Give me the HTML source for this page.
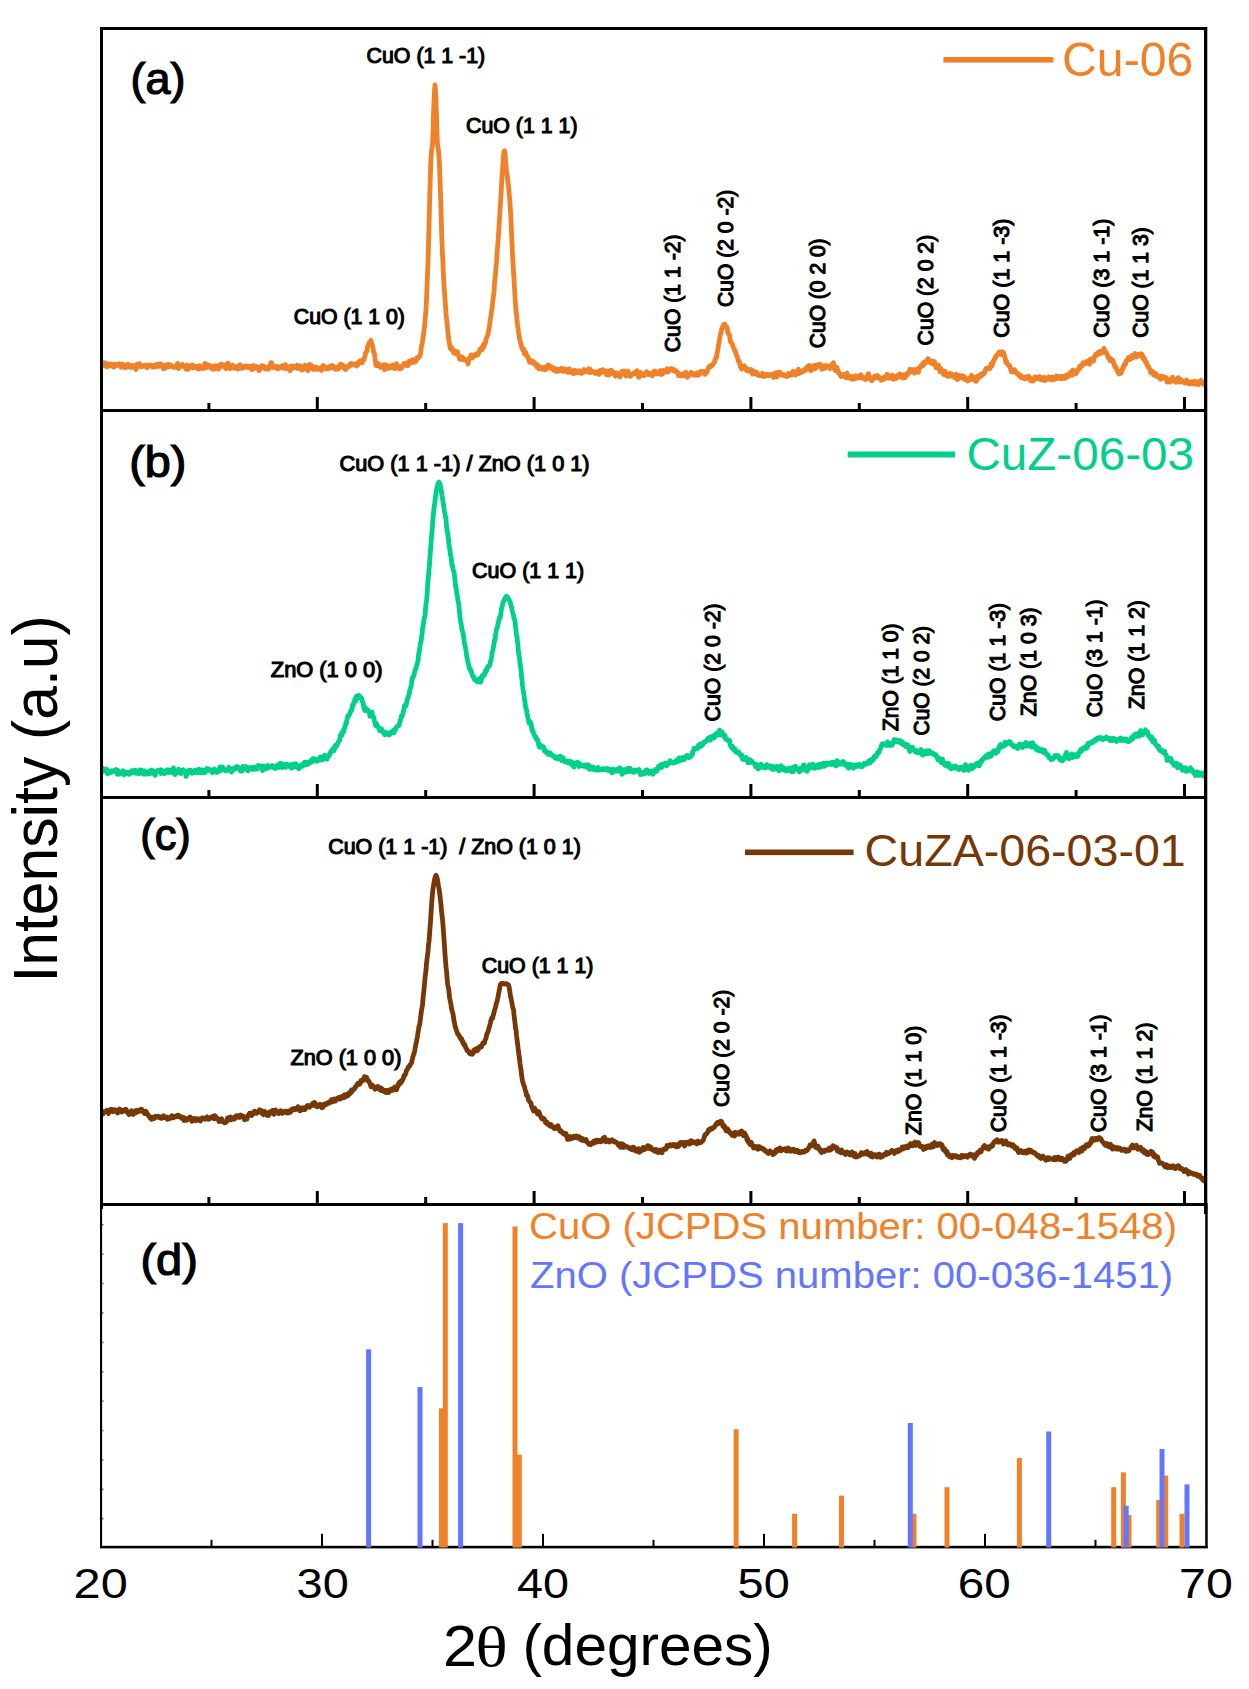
<!DOCTYPE html><html><head><meta charset="utf-8"><title>XRD patterns</title><style>html,body{margin:0;padding:0;background:#fff;overflow:hidden}svg{display:block}text{font-family:"Liberation Sans",sans-serif}</style></head><body>
<svg width="1249" height="1689" viewBox="0 0 1249 1689">
<rect width="1249" height="1689" fill="#fff"/>
<polyline fill="none" stroke="#EF8228" stroke-width="4.8" stroke-linejoin="round" points="102.0,367.1 102.5,365.5 103.0,364.7 103.5,363.8 104.0,365.5 104.5,362.7 105.0,366.0 105.5,364.8 106.0,365.4 106.5,365.0 107.0,366.9 107.5,363.7 108.0,364.1 108.5,364.3 109.0,366.1 109.5,364.4 110.0,364.7 110.5,364.0 111.0,364.7 111.5,365.7 112.0,364.3 112.5,366.1 113.0,366.8 113.5,366.7 114.0,367.0 114.5,365.4 115.0,365.3 115.5,364.3 116.0,364.5 116.5,365.6 117.0,364.7 117.5,364.6 118.0,364.2 118.5,363.9 119.0,363.9 119.5,364.6 120.0,363.8 120.5,364.9 121.0,367.1 121.5,367.1 122.0,366.1 122.5,364.8 123.0,364.3 123.5,366.8 124.0,366.2 124.5,365.1 125.0,365.5 125.5,367.9 126.0,366.9 126.5,366.9 127.0,366.6 127.5,365.6 128.0,364.3 128.5,364.5 129.0,364.8 129.5,365.9 130.0,366.7 130.5,367.2 131.0,366.7 131.5,367.2 132.0,365.5 132.5,367.0 133.0,366.9 133.5,365.9 134.0,366.3 134.5,365.9 135.0,367.1 135.5,368.1 136.0,369.4 136.5,365.9 137.0,364.1 137.5,364.3 138.0,365.2 138.5,366.4 139.0,366.4 139.5,363.7 140.0,364.4 140.5,366.0 141.0,366.1 141.5,366.8 142.0,366.0 142.5,365.6 143.0,365.9 143.5,366.3 144.0,366.2 144.5,366.1 145.0,365.2 145.5,365.9 146.0,366.0 146.5,367.2 147.0,367.8 147.5,367.0 148.0,366.0 148.5,365.1 149.0,366.0 149.5,366.0 150.0,365.5 150.5,365.7 151.0,365.0 151.5,366.2 152.0,365.5 152.5,367.1 153.0,366.9 153.5,367.1 154.0,365.2 154.5,365.7 155.0,366.6 155.5,365.2 156.0,365.2 156.5,365.6 157.0,364.2 157.5,365.4 158.0,366.6 158.5,365.3 159.0,366.0 159.5,364.4 160.0,365.1 160.5,363.7 161.0,366.1 161.5,366.5 162.0,366.2 162.5,365.2 163.0,367.0 163.5,368.8 164.0,365.2 164.5,367.0 165.0,368.4 165.5,367.6 166.0,365.4 166.5,366.7 167.0,366.1 167.5,365.4 168.0,364.3 168.5,365.8 169.0,366.8 169.5,365.7 170.0,366.5 170.5,364.9 171.0,366.4 171.5,366.3 172.0,366.0 172.5,365.9 173.0,367.0 173.5,367.4 174.0,367.4 174.5,366.9 175.0,366.6 175.5,367.1 176.0,366.9 176.5,367.3 177.0,366.3 177.5,363.4 178.0,366.0 178.5,368.6 179.0,367.9 179.5,366.9 180.0,366.4 180.5,366.1 181.0,366.2 181.5,364.9 182.0,364.9 182.5,364.4 183.0,365.6 183.5,365.6 184.0,366.5 184.5,366.1 185.0,367.3 185.5,367.0 186.0,369.1 186.5,365.5 187.0,365.1 187.5,366.7 188.0,369.4 188.5,367.6 189.0,367.0 189.5,366.4 190.0,367.9 190.5,366.7 191.0,367.3 191.5,366.4 192.0,364.9 192.5,366.0 193.0,366.7 193.5,368.0 194.0,367.0 194.5,366.0 195.0,366.8 195.5,366.9 196.0,366.9 196.5,366.6 197.0,367.8 197.5,367.5 198.0,369.1 198.5,369.0 199.0,368.5 199.5,365.6 200.0,366.7 200.5,367.0 201.0,367.7 201.5,368.2 202.0,366.9 202.5,367.6 203.0,366.4 203.5,368.7 204.0,366.0 204.5,364.2 205.0,363.4 205.5,363.9 206.0,363.9 206.5,367.5 207.0,366.6 207.5,365.0 208.0,367.0 208.5,366.1 209.0,364.9 209.5,366.7 210.0,367.3 210.5,366.4 211.0,368.1 211.5,367.5 212.0,368.9 212.5,368.3 213.0,369.2 213.5,368.0 214.0,365.9 214.5,369.1 215.0,367.2 215.5,366.7 216.0,365.8 216.5,366.0 217.0,366.6 217.5,366.8 218.0,367.5 218.5,369.1 219.0,367.7 219.5,365.8 220.0,364.8 220.5,365.0 221.0,363.9 221.5,366.2 222.0,365.9 222.5,365.9 223.0,366.3 223.5,364.9 224.0,364.8 224.5,366.5 225.0,367.3 225.5,366.5 226.0,368.7 226.5,366.2 227.0,366.1 227.5,366.1 228.0,363.2 228.5,367.2 229.0,367.4 229.5,365.9 230.0,368.7 230.5,368.4 231.0,368.1 231.5,366.7 232.0,366.9 232.5,365.1 233.0,366.9 233.5,366.4 234.0,366.8 234.5,368.2 235.0,367.8 235.5,367.6 236.0,367.6 236.5,366.4 237.0,367.6 237.5,369.0 238.0,368.8 238.5,368.8 239.0,366.9 239.5,365.9 240.0,364.7 240.5,367.2 241.0,366.8 241.5,368.4 242.0,366.8 242.5,366.3 243.0,366.7 243.5,367.9 244.0,367.5 244.5,367.5 245.0,367.2 245.5,367.3 246.0,365.8 246.5,366.5 247.0,366.5 247.5,366.7 248.0,367.4 248.5,366.4 249.0,366.6 249.5,366.5 250.0,367.2 250.5,368.0 251.0,366.4 251.5,367.4 252.0,369.6 252.5,366.6 253.0,365.9 253.5,365.5 254.0,365.9 254.5,368.4 255.0,367.7 255.5,366.6 256.0,367.6 256.5,366.6 257.0,368.2 257.5,368.0 258.0,369.1 258.5,367.4 259.0,370.7 259.5,369.9 260.0,369.3 260.5,368.2 261.0,366.8 261.5,366.0 262.0,366.4 262.5,365.9 263.0,366.9 263.5,366.1 264.0,367.4 264.5,368.4 265.0,367.0 265.5,368.5 266.0,367.6 266.5,368.7 267.0,368.5 267.5,369.2 268.0,367.1 268.5,367.1 269.0,368.8 269.5,367.4 270.0,365.0 270.5,363.9 271.0,362.7 271.5,362.6 272.0,364.5 272.5,367.4 273.0,366.9 273.5,367.5 274.0,367.3 274.5,367.3 275.0,367.2 275.5,367.1 276.0,367.8 276.5,366.2 277.0,368.0 277.5,368.8 278.0,367.9 278.5,368.6 279.0,367.2 279.5,366.7 280.0,367.3 280.5,367.1 281.0,366.8 281.5,366.4 282.0,366.3 282.5,368.0 283.0,365.5 283.5,366.9 284.0,366.9 284.5,368.1 285.0,368.4 285.5,364.7 286.0,366.8 286.5,367.5 287.0,367.6 287.5,367.0 288.0,368.3 288.5,367.4 289.0,369.6 289.5,369.2 290.0,370.9 290.5,368.3 291.0,365.9 291.5,367.6 292.0,368.6 292.5,368.1 293.0,366.1 293.5,366.3 294.0,367.7 294.5,367.4 295.0,367.4 295.5,367.3 296.0,366.4 296.5,366.4 297.0,365.3 297.5,368.5 298.0,367.5 298.5,368.1 299.0,366.7 299.5,368.1 300.0,365.7 300.5,367.7 301.0,367.6 301.5,370.0 302.0,367.3 302.5,367.5 303.0,368.0 303.5,369.2 304.0,367.9 304.5,367.9 305.0,365.3 305.5,365.5 306.0,367.0 306.5,368.6 307.0,367.8 307.5,370.0 308.0,370.8 308.5,369.1 309.0,365.6 309.5,364.5 310.0,365.1 310.5,367.6 311.0,368.0 311.5,365.3 312.0,366.2 312.5,368.7 313.0,367.7 313.5,366.7 314.0,369.5 314.5,368.6 315.0,367.5 315.5,367.9 316.0,367.7 316.5,367.1 317.0,368.7 317.5,369.4 318.0,369.4 318.5,368.3 319.0,369.2 319.5,368.3 320.0,368.4 320.5,369.1 321.0,369.2 321.5,370.4 322.0,369.4 322.5,366.5 323.0,365.6 323.5,368.0 324.0,367.3 324.5,367.8 325.0,366.6 325.5,368.1 326.0,367.3 326.5,369.0 327.0,367.5 327.5,368.7 328.0,368.8 328.5,367.2 329.0,368.5 329.5,366.8 330.0,366.1 330.5,367.5 331.0,366.6 331.5,366.2 332.0,366.3 332.5,365.6 333.0,367.5 333.5,368.0 334.0,367.5 334.5,367.2 335.0,367.6 335.5,369.4 336.0,369.2 336.5,367.5 337.0,368.1 337.5,367.4 338.0,367.0 338.5,369.1 339.0,367.5 339.5,366.6 340.0,364.5 340.5,364.1 341.0,366.0 341.5,365.6 342.0,366.8 342.5,365.5 343.0,365.2 343.5,366.7 344.0,368.4 344.5,368.2 345.0,368.8 345.5,369.7 346.0,369.3 346.5,366.9 347.0,366.6 347.5,367.3 348.0,366.4 348.5,366.9 349.0,364.9 349.5,364.7 350.0,366.1 350.5,363.7 351.0,363.7 351.5,364.9 352.0,363.5 352.5,364.7 353.0,364.3 353.5,364.6 354.0,364.7 354.5,365.1 355.0,364.3 355.5,364.6 356.0,363.8 356.5,364.6 357.0,366.1 357.5,365.0 358.0,364.3 358.5,362.2 359.0,363.1 359.5,361.7 360.0,360.8 360.5,361.7 361.0,361.5 361.5,362.3 362.0,362.8 362.5,360.5 363.0,359.6 363.5,360.4 364.0,359.2 364.5,357.5 365.0,356.6 365.5,353.2 366.0,352.1 366.5,351.7 367.0,351.0 367.5,347.3 368.0,345.4 368.5,344.7 369.0,343.2 369.5,342.1 370.0,342.7 370.5,341.9 371.0,340.3 371.5,342.8 372.0,344.3 372.5,346.0 373.0,347.2 373.5,352.2 374.0,352.3 374.5,354.3 375.0,358.0 375.5,362.5 376.0,365.5 376.5,364.4 377.0,364.9 377.5,363.4 378.0,365.6 378.5,363.9 379.0,364.5 379.5,366.2 380.0,365.7 380.5,367.4 381.0,365.5 381.5,366.0 382.0,366.9 382.5,366.1 383.0,367.5 383.5,367.3 384.0,364.7 384.5,369.8 385.0,368.6 385.5,367.3 386.0,365.0 386.5,365.5 387.0,365.2 387.5,366.3 388.0,366.5 388.5,368.4 389.0,367.3 389.5,367.3 390.0,367.1 390.5,366.4 391.0,366.0 391.5,367.3 392.0,367.6 392.5,366.2 393.0,364.9 393.5,365.5 394.0,367.2 394.5,366.7 395.0,368.6 395.5,366.6 396.0,366.7 396.5,363.6 397.0,364.4 397.5,365.1 398.0,366.4 398.5,368.4 399.0,367.5 399.5,368.7 400.0,368.3 400.5,368.5 401.0,366.9 401.5,368.2 402.0,366.0 402.5,366.6 403.0,365.1 403.5,364.8 404.0,363.5 404.5,363.8 405.0,364.9 405.5,364.8 406.0,363.2 406.5,365.5 407.0,365.2 407.5,365.7 408.0,365.6 408.5,363.7 409.0,361.2 409.5,361.0 410.0,363.2 410.5,361.6 411.0,362.9 411.5,361.7 412.0,362.2 412.5,359.8 413.0,362.0 413.5,361.5 414.0,362.3 414.5,361.7 415.0,362.0 415.5,360.9 416.0,361.2 416.5,358.5 417.0,357.4 417.5,358.7 418.0,358.2 418.5,357.4 419.0,356.8 419.5,356.8 420.0,355.2 420.5,354.3 421.0,349.8 421.5,346.1 422.0,344.3 422.5,342.1 423.0,337.1 423.5,335.2 424.0,330.3 424.5,327.7 425.0,320.9 425.5,315.3 426.0,308.7 426.5,298.9 427.0,288.3 427.5,275.0 428.0,262.2 428.5,246.9 429.0,226.1 429.5,206.4 430.0,187.8 430.5,171.0 431.0,158.2 431.5,150.7 432.0,147.9 432.5,143.9 433.0,133.0 433.5,114.3 434.0,101.3 434.5,91.0 435.0,84.8 435.5,91.5 436.0,101.3 436.5,115.0 437.0,133.2 437.5,144.7 438.0,148.0 438.5,150.8 439.0,155.5 439.5,165.4 440.0,178.6 440.5,194.1 441.0,210.7 441.5,227.9 442.0,243.3 442.5,254.6 443.0,263.6 443.5,276.5 444.0,286.3 444.5,291.2 445.0,299.1 445.5,306.5 446.0,313.2 446.5,318.3 447.0,322.4 447.5,328.0 448.0,332.8 448.5,337.9 449.0,341.3 449.5,343.9 450.0,346.6 450.5,348.6 451.0,347.3 451.5,347.8 452.0,347.9 452.5,350.6 453.0,350.7 453.5,352.7 454.0,351.8 454.5,352.1 455.0,351.0 455.5,353.7 456.0,353.4 456.5,352.3 457.0,353.0 457.5,351.7 458.0,353.9 458.5,355.5 459.0,356.7 459.5,358.9 460.0,358.2 460.5,359.3 461.0,359.5 461.5,359.1 462.0,356.9 462.5,359.4 463.0,359.1 463.5,359.6 464.0,358.4 464.5,359.5 465.0,359.9 465.5,359.9 466.0,359.7 466.5,361.0 467.0,361.4 467.5,361.3 468.0,364.2 468.5,361.0 469.0,359.6 469.5,358.0 470.0,358.8 470.5,357.8 471.0,354.8 471.5,354.9 472.0,356.3 472.5,357.9 473.0,355.5 473.5,355.3 474.0,355.5 474.5,354.8 475.0,355.6 475.5,355.2 476.0,355.2 476.5,353.7 477.0,355.3 477.5,354.1 478.0,354.7 478.5,352.8 479.0,352.7 479.5,350.9 480.0,349.4 480.5,348.7 481.0,348.7 481.5,348.2 482.0,349.7 482.5,347.0 483.0,345.3 483.5,347.4 484.0,346.8 484.5,343.2 485.0,343.6 485.5,342.8 486.0,338.8 486.5,337.8 487.0,336.7 487.5,335.8 488.0,334.4 488.5,331.3 489.0,329.5 489.5,325.8 490.0,321.7 490.5,318.0 491.0,316.3 491.5,310.8 492.0,309.0 492.5,303.8 493.0,299.6 493.5,295.9 494.0,292.1 494.5,283.8 495.0,278.0 495.5,273.2 496.0,267.0 496.5,262.5 497.0,253.7 497.5,248.5 498.0,242.1 498.5,234.6 499.0,227.0 499.5,218.4 500.0,210.9 500.5,202.6 501.0,194.5 501.5,185.4 502.0,177.1 502.5,169.7 503.0,162.3 503.5,155.8 504.0,151.3 504.5,150.7 505.0,153.7 505.5,159.7 506.0,165.3 506.5,170.5 507.0,174.2 507.5,177.8 508.0,182.1 508.5,186.3 509.0,192.0 509.5,197.1 510.0,203.3 510.5,211.4 511.0,220.7 511.5,231.9 512.0,243.8 512.5,255.2 513.0,263.5 513.5,271.3 514.0,279.0 514.5,288.0 515.0,297.0 515.5,304.6 516.0,310.6 516.5,315.0 517.0,319.7 517.5,324.6 518.0,328.1 518.5,331.8 519.0,334.8 519.5,338.8 520.0,340.4 520.5,342.7 521.0,344.7 521.5,346.4 522.0,348.7 522.5,349.3 523.0,350.1 523.5,348.5 524.0,350.6 524.5,354.0 525.0,352.6 525.5,352.0 526.0,353.1 526.5,355.4 527.0,356.4 527.5,356.1 528.0,356.8 528.5,358.7 529.0,359.6 529.5,362.4 530.0,362.4 530.5,362.0 531.0,362.3 531.5,361.6 532.0,360.8 532.5,362.0 533.0,363.2 533.5,361.8 534.0,362.3 534.5,362.9 535.0,364.2 535.5,364.3 536.0,365.4 536.5,365.7 537.0,367.1 537.5,364.7 538.0,367.5 538.5,368.7 539.0,367.9 539.5,368.2 540.0,368.4 540.5,367.1 541.0,367.5 541.5,368.4 542.0,368.4 542.5,369.3 543.0,368.7 543.5,368.4 544.0,367.3 544.5,367.3 545.0,367.2 545.5,369.7 546.0,369.3 546.5,367.6 547.0,368.5 547.5,368.2 548.0,364.9 548.5,367.2 549.0,366.1 549.5,368.0 550.0,367.3 550.5,366.3 551.0,368.1 551.5,366.7 552.0,367.3 552.5,368.3 553.0,369.3 553.5,370.0 554.0,369.4 554.5,368.3 555.0,370.9 555.5,369.3 556.0,371.3 556.5,369.7 557.0,370.8 557.5,371.3 558.0,369.1 558.5,369.7 559.0,370.4 559.5,370.8 560.0,369.9 560.5,370.1 561.0,369.5 561.5,368.3 562.0,370.2 562.5,369.4 563.0,371.3 563.5,371.4 564.0,369.7 564.5,369.8 565.0,369.7 565.5,369.0 566.0,370.3 566.5,369.8 567.0,372.1 567.5,372.3 568.0,370.5 568.5,370.6 569.0,370.4 569.5,368.8 570.0,370.9 570.5,372.0 571.0,372.5 571.5,371.2 572.0,372.3 572.5,371.4 573.0,372.3 573.5,373.8 574.0,372.6 574.5,370.3 575.0,370.4 575.5,371.6 576.0,372.8 576.5,370.8 577.0,370.8 577.5,371.4 578.0,371.9 578.5,372.7 579.0,371.0 579.5,370.8 580.0,372.3 580.5,372.4 581.0,372.5 581.5,373.4 582.0,372.6 582.5,372.8 583.0,371.9 583.5,370.3 584.0,369.5 584.5,370.7 585.0,371.0 585.5,370.7 586.0,371.6 586.5,370.7 587.0,371.5 587.5,371.7 588.0,370.8 588.5,368.8 589.0,372.1 589.5,372.4 590.0,369.2 590.5,370.1 591.0,371.6 591.5,371.6 592.0,372.5 592.5,371.2 593.0,371.9 593.5,372.0 594.0,371.9 594.5,371.8 595.0,372.3 595.5,373.4 596.0,372.2 596.5,371.8 597.0,372.3 597.5,372.2 598.0,372.8 598.5,373.4 599.0,374.4 599.5,373.3 600.0,370.3 600.5,371.4 601.0,372.4 601.5,372.3 602.0,372.3 602.5,369.7 603.0,371.8 603.5,371.9 604.0,370.6 604.5,370.7 605.0,370.7 605.5,372.5 606.0,373.3 606.5,374.8 607.0,374.6 607.5,372.2 608.0,371.0 608.5,373.3 609.0,375.0 609.5,373.7 610.0,374.1 610.5,371.9 611.0,370.3 611.5,370.4 612.0,371.4 612.5,371.7 613.0,372.2 613.5,372.2 614.0,373.5 614.5,375.1 615.0,374.3 615.5,376.2 616.0,374.1 616.5,373.1 617.0,373.7 617.5,373.2 618.0,374.7 618.5,373.4 619.0,375.0 619.5,374.5 620.0,377.0 620.5,374.8 621.0,374.0 621.5,374.0 622.0,371.3 622.5,373.2 623.0,374.0 623.5,374.0 624.0,372.1 624.5,371.1 625.0,373.1 625.5,374.8 626.0,376.1 626.5,373.9 627.0,372.7 627.5,372.9 628.0,371.1 628.5,371.8 629.0,373.8 629.5,375.7 630.0,375.1 630.5,376.3 631.0,375.5 631.5,374.9 632.0,374.1 632.5,374.2 633.0,373.7 633.5,373.6 634.0,372.9 634.5,373.6 635.0,373.7 635.5,372.0 636.0,372.6 636.5,372.2 637.0,370.6 637.5,372.7 638.0,375.0 638.5,377.1 639.0,377.2 639.5,374.5 640.0,375.4 640.5,375.9 641.0,372.5 641.5,374.1 642.0,374.6 642.5,374.3 643.0,374.3 643.5,374.0 644.0,375.7 644.5,374.2 645.0,373.7 645.5,373.6 646.0,373.9 646.5,371.7 647.0,374.2 647.5,374.1 648.0,374.5 648.5,374.2 649.0,373.6 649.5,373.1 650.0,373.4 650.5,373.6 651.0,374.8 651.5,374.5 652.0,373.8 652.5,375.9 653.0,373.1 653.5,371.7 654.0,372.9 654.5,372.8 655.0,371.0 655.5,371.7 656.0,371.6 656.5,373.7 657.0,372.7 657.5,374.1 658.0,374.1 658.5,373.4 659.0,373.2 659.5,373.6 660.0,370.6 660.5,372.2 661.0,372.1 661.5,374.5 662.0,372.8 662.5,374.0 663.0,370.3 663.5,372.2 664.0,372.5 664.5,372.0 665.0,371.8 665.5,371.4 666.0,371.8 666.5,371.2 667.0,368.8 667.5,369.3 668.0,372.1 668.5,370.9 669.0,370.4 669.5,369.2 670.0,369.3 670.5,369.3 671.0,368.9 671.5,370.1 672.0,368.8 672.5,369.3 673.0,370.5 673.5,370.5 674.0,369.6 674.5,371.4 675.0,370.7 675.5,371.1 676.0,371.0 676.5,371.8 677.0,372.0 677.5,372.1 678.0,373.6 678.5,375.7 679.0,374.4 679.5,374.9 680.0,374.2 680.5,374.5 681.0,375.9 681.5,375.4 682.0,374.2 682.5,373.8 683.0,373.7 683.5,374.4 684.0,375.8 684.5,374.0 685.0,373.4 685.5,373.2 686.0,372.2 686.5,375.2 687.0,375.1 687.5,377.3 688.0,374.6 688.5,376.3 689.0,374.8 689.5,374.4 690.0,373.5 690.5,373.1 691.0,372.4 691.5,373.9 692.0,372.8 692.5,373.4 693.0,374.0 693.5,375.0 694.0,374.8 694.5,375.0 695.0,375.2 695.5,374.7 696.0,374.8 696.5,373.3 697.0,372.7 697.5,375.4 698.0,374.6 698.5,373.3 699.0,375.0 699.5,374.0 700.0,372.9 700.5,371.4 701.0,373.1 701.5,371.7 702.0,371.5 702.5,372.7 703.0,372.6 703.5,372.1 704.0,371.6 704.5,372.7 705.0,374.4 705.5,371.8 706.0,371.7 706.5,372.9 707.0,372.4 707.5,369.9 708.0,368.7 708.5,367.7 709.0,366.7 709.5,366.2 710.0,366.8 710.5,365.8 711.0,366.7 711.5,366.0 712.0,364.6 712.5,365.0 713.0,364.1 713.5,363.2 714.0,363.0 714.5,361.9 715.0,359.9 715.5,359.2 716.0,357.0 716.5,357.5 717.0,354.3 717.5,351.4 718.0,348.7 718.5,344.6 719.0,342.8 719.5,339.4 720.0,336.0 720.5,333.9 721.0,333.1 721.5,329.5 722.0,328.9 722.5,326.8 723.0,326.9 723.5,324.8 724.0,326.6 724.5,326.3 725.0,324.1 725.5,326.9 726.0,326.7 726.5,326.8 727.0,327.3 727.5,330.2 728.0,333.7 728.5,333.8 729.0,334.3 729.5,335.0 730.0,339.0 730.5,341.8 731.0,341.4 731.5,342.9 732.0,343.6 732.5,344.4 733.0,346.7 733.5,347.8 734.0,348.9 734.5,349.3 735.0,351.5 735.5,352.1 736.0,353.6 736.5,355.5 737.0,355.6 737.5,357.6 738.0,359.3 738.5,361.3 739.0,361.4 739.5,361.8 740.0,365.4 740.5,366.9 741.0,367.5 741.5,369.1 742.0,368.5 742.5,367.8 743.0,368.3 743.5,365.9 744.0,365.8 744.5,368.1 745.0,368.5 745.5,367.3 746.0,369.0 746.5,370.4 747.0,370.8 747.5,370.4 748.0,369.3 748.5,370.0 749.0,370.8 749.5,370.4 750.0,371.4 750.5,371.7 751.0,372.0 751.5,369.5 752.0,372.0 752.5,374.1 753.0,372.8 753.5,371.0 754.0,372.7 754.5,372.4 755.0,371.7 755.5,374.0 756.0,372.2 756.5,373.9 757.0,372.5 757.5,375.0 758.0,375.2 758.5,374.4 759.0,374.5 759.5,375.1 760.0,375.7 760.5,375.9 761.0,375.8 761.5,374.5 762.0,375.2 762.5,373.3 763.0,375.0 763.5,375.7 764.0,376.6 764.5,374.8 765.0,374.8 765.5,375.6 766.0,375.3 766.5,374.4 767.0,374.7 767.5,374.7 768.0,375.7 768.5,374.3 769.0,374.8 769.5,374.9 770.0,375.5 770.5,374.9 771.0,374.8 771.5,374.5 772.0,374.5 772.5,374.5 773.0,374.1 773.5,377.5 774.0,375.0 774.5,373.4 775.0,373.0 775.5,372.9 776.0,373.7 776.5,375.7 777.0,377.0 777.5,376.0 778.0,372.4 778.5,373.9 779.0,372.7 779.5,373.0 780.0,372.4 780.5,373.9 781.0,373.5 781.5,374.9 782.0,375.2 782.5,374.6 783.0,374.6 783.5,375.6 784.0,374.6 784.5,375.6 785.0,375.0 785.5,375.1 786.0,375.7 786.5,376.6 787.0,376.2 787.5,375.4 788.0,375.8 788.5,373.4 789.0,375.8 789.5,373.6 790.0,375.1 790.5,374.1 791.0,374.9 791.5,374.5 792.0,374.7 792.5,373.5 793.0,371.3 793.5,373.1 794.0,372.7 794.5,372.4 795.0,372.1 795.5,375.0 796.0,373.3 796.5,373.5 797.0,371.7 797.5,373.8 798.0,372.4 798.5,369.2 799.0,373.6 799.5,371.3 800.0,372.8 800.5,372.7 801.0,372.5 801.5,371.2 802.0,370.9 802.5,371.9 803.0,370.5 803.5,370.3 804.0,370.8 804.5,370.0 805.0,368.9 805.5,370.4 806.0,369.8 806.5,368.8 807.0,367.5 807.5,366.4 808.0,368.0 808.5,368.8 809.0,365.5 809.5,365.6 810.0,367.3 810.5,369.9 811.0,370.7 811.5,369.8 812.0,369.7 812.5,367.5 813.0,367.9 813.5,365.7 814.0,365.4 814.5,366.2 815.0,368.8 815.5,368.4 816.0,367.6 816.5,366.7 817.0,364.9 817.5,366.2 818.0,365.8 818.5,366.2 819.0,365.1 819.5,365.7 820.0,364.1 820.5,365.6 821.0,367.3 821.5,367.7 822.0,369.3 822.5,368.0 823.0,367.6 823.5,367.4 824.0,365.7 824.5,368.3 825.0,368.3 825.5,366.9 826.0,365.5 826.5,366.5 827.0,367.3 827.5,366.9 828.0,366.8 828.5,366.3 829.0,366.3 829.5,367.8 830.0,368.7 830.5,365.8 831.0,366.3 831.5,365.0 832.0,364.2 832.5,366.1 833.0,365.5 833.5,362.7 834.0,365.8 834.5,368.3 835.0,370.6 835.5,369.2 836.0,370.8 836.5,367.2 837.0,367.5 837.5,369.6 838.0,370.9 838.5,372.8 839.0,373.6 839.5,373.0 840.0,374.9 840.5,375.1 841.0,376.6 841.5,374.6 842.0,375.1 842.5,374.7 843.0,376.0 843.5,375.6 844.0,375.5 844.5,374.3 845.0,375.5 845.5,377.1 846.0,377.8 846.5,373.6 847.0,373.1 847.5,377.1 848.0,376.6 848.5,376.4 849.0,377.9 849.5,377.5 850.0,376.4 850.5,376.4 851.0,378.8 851.5,376.3 852.0,378.2 852.5,377.3 853.0,376.9 853.5,379.2 854.0,377.5 854.5,378.3 855.0,377.4 855.5,375.7 856.0,376.4 856.5,378.3 857.0,377.7 857.5,378.2 858.0,378.1 858.5,377.9 859.0,377.3 859.5,377.6 860.0,375.3 860.5,376.0 861.0,374.8 861.5,376.6 862.0,377.6 862.5,376.8 863.0,378.3 863.5,378.5 864.0,378.6 864.5,377.8 865.0,378.4 865.5,379.4 866.0,377.9 866.5,377.0 867.0,378.9 867.5,375.8 868.0,373.9 868.5,373.8 869.0,376.1 869.5,377.2 870.0,378.2 870.5,378.2 871.0,379.9 871.5,380.7 872.0,380.7 872.5,378.0 873.0,378.4 873.5,377.2 874.0,377.0 874.5,376.3 875.0,377.2 875.5,378.2 876.0,378.2 876.5,376.7 877.0,375.5 877.5,375.9 878.0,376.0 878.5,377.8 879.0,377.5 879.5,377.5 880.0,377.5 880.5,378.9 881.0,380.3 881.5,379.5 882.0,378.4 882.5,379.7 883.0,379.2 883.5,378.0 884.0,379.0 884.5,378.6 885.0,376.5 885.5,377.8 886.0,378.1 886.5,375.7 887.0,374.2 887.5,376.1 888.0,377.6 888.5,378.3 889.0,376.3 889.5,376.5 890.0,377.8 890.5,375.9 891.0,376.7 891.5,377.3 892.0,378.4 892.5,375.1 893.0,376.4 893.5,379.2 894.0,377.5 894.5,377.0 895.0,378.2 895.5,376.8 896.0,378.3 896.5,378.3 897.0,375.9 897.5,376.6 898.0,375.1 898.5,377.1 899.0,375.1 899.5,373.9 900.0,374.1 900.5,374.5 901.0,377.1 901.5,376.9 902.0,377.0 902.5,378.0 903.0,376.3 903.5,375.5 904.0,374.8 904.5,376.2 905.0,377.8 905.5,376.9 906.0,375.3 906.5,374.6 907.0,373.4 907.5,374.8 908.0,373.3 908.5,373.4 909.0,372.3 909.5,370.7 910.0,369.1 910.5,370.1 911.0,371.7 911.5,371.8 912.0,371.8 912.5,370.7 913.0,370.1 913.5,369.6 914.0,370.7 914.5,373.2 915.0,371.8 915.5,369.6 916.0,371.3 916.5,369.4 917.0,370.0 917.5,369.0 918.0,368.8 918.5,372.4 919.0,369.1 919.5,367.5 920.0,367.5 920.5,366.8 921.0,365.8 921.5,364.7 922.0,365.4 922.5,366.1 923.0,363.9 923.5,362.4 924.0,364.8 924.5,362.1 925.0,363.1 925.5,363.0 926.0,361.1 926.5,362.2 927.0,360.5 927.5,359.6 928.0,358.7 928.5,360.8 929.0,360.4 929.5,361.9 930.0,360.6 930.5,361.6 931.0,363.2 931.5,362.3 932.0,360.9 932.5,361.2 933.0,363.4 933.5,364.0 934.0,363.3 934.5,361.6 935.0,363.8 935.5,366.2 936.0,367.6 936.5,367.2 937.0,366.5 937.5,365.8 938.0,365.9 938.5,365.0 939.0,369.1 939.5,368.9 940.0,371.9 940.5,370.8 941.0,368.6 941.5,371.8 942.0,370.5 942.5,370.5 943.0,373.1 943.5,374.3 944.0,371.1 944.5,371.9 945.0,371.2 945.5,372.8 946.0,375.2 946.5,373.8 947.0,375.5 947.5,373.7 948.0,376.5 948.5,374.6 949.0,374.1 949.5,374.9 950.0,373.4 950.5,376.1 951.0,374.6 951.5,375.9 952.0,374.4 952.5,375.4 953.0,375.8 953.5,375.7 954.0,376.7 954.5,375.4 955.0,377.9 955.5,377.7 956.0,374.2 956.5,378.0 957.0,378.2 957.5,379.6 958.0,378.4 958.5,375.4 959.0,376.0 959.5,375.5 960.0,376.6 960.5,376.6 961.0,377.5 961.5,375.6 962.0,376.8 962.5,376.8 963.0,378.1 963.5,376.1 964.0,376.6 964.5,379.2 965.0,377.3 965.5,378.6 966.0,379.9 966.5,379.0 967.0,379.8 967.5,380.2 968.0,381.0 968.5,379.2 969.0,378.6 969.5,379.4 970.0,378.0 970.5,378.2 971.0,377.5 971.5,375.3 972.0,377.2 972.5,379.8 973.0,378.6 973.5,378.6 974.0,378.0 974.5,377.3 975.0,378.0 975.5,379.4 976.0,381.4 976.5,380.7 977.0,378.2 977.5,376.3 978.0,378.4 978.5,378.1 979.0,376.8 979.5,375.4 980.0,374.9 980.5,376.7 981.0,376.0 981.5,373.9 982.0,375.2 982.5,374.9 983.0,373.9 983.5,374.1 984.0,372.4 984.5,373.3 985.0,370.7 985.5,369.8 986.0,368.5 986.5,368.6 987.0,368.1 987.5,368.0 988.0,368.0 988.5,368.4 989.0,367.9 989.5,367.5 990.0,368.6 990.5,366.6 991.0,363.9 991.5,364.9 992.0,365.9 992.5,364.0 993.0,363.4 993.5,360.8 994.0,359.9 994.5,359.5 995.0,358.5 995.5,356.4 996.0,357.4 996.5,355.8 997.0,355.4 997.5,354.3 998.0,353.9 998.5,353.6 999.0,351.9 999.5,352.1 1000.0,353.7 1000.5,354.4 1001.0,353.4 1001.5,354.3 1002.0,351.6 1002.5,353.9 1003.0,354.0 1003.5,352.4 1004.0,354.4 1004.5,357.0 1005.0,357.0 1005.5,360.7 1006.0,362.5 1006.5,361.0 1007.0,363.5 1007.5,364.3 1008.0,364.4 1008.5,365.2 1009.0,365.9 1009.5,365.6 1010.0,366.6 1010.5,368.6 1011.0,370.7 1011.5,372.0 1012.0,370.6 1012.5,370.6 1013.0,370.0 1013.5,372.0 1014.0,370.2 1014.5,369.8 1015.0,370.6 1015.5,372.2 1016.0,372.5 1016.5,373.2 1017.0,373.7 1017.5,374.3 1018.0,373.3 1018.5,373.7 1019.0,375.0 1019.5,375.4 1020.0,376.7 1020.5,375.2 1021.0,376.5 1021.5,377.9 1022.0,376.8 1022.5,376.8 1023.0,376.8 1023.5,377.2 1024.0,377.4 1024.5,378.7 1025.0,378.4 1025.5,378.7 1026.0,378.3 1026.5,376.6 1027.0,377.5 1027.5,377.2 1028.0,376.7 1028.5,376.2 1029.0,377.0 1029.5,376.8 1030.0,379.8 1030.5,380.8 1031.0,379.2 1031.5,379.6 1032.0,380.4 1032.5,379.2 1033.0,381.1 1033.5,380.9 1034.0,379.7 1034.5,377.2 1035.0,376.9 1035.5,378.3 1036.0,378.1 1036.5,378.5 1037.0,377.9 1037.5,378.7 1038.0,378.4 1038.5,377.0 1039.0,377.6 1039.5,377.7 1040.0,376.6 1040.5,379.5 1041.0,379.2 1041.5,378.8 1042.0,379.8 1042.5,379.3 1043.0,380.1 1043.5,377.9 1044.0,377.2 1044.5,378.8 1045.0,380.6 1045.5,379.8 1046.0,379.6 1046.5,378.3 1047.0,378.6 1047.5,377.9 1048.0,378.2 1048.5,379.3 1049.0,376.8 1049.5,378.0 1050.0,377.4 1050.5,377.3 1051.0,379.3 1051.5,379.3 1052.0,380.0 1052.5,377.3 1053.0,377.4 1053.5,377.4 1054.0,377.3 1054.5,378.3 1055.0,379.4 1055.5,377.6 1056.0,376.8 1056.5,376.0 1057.0,378.4 1057.5,377.6 1058.0,377.6 1058.5,377.3 1059.0,376.4 1059.5,377.4 1060.0,377.9 1060.5,378.7 1061.0,377.7 1061.5,377.0 1062.0,376.3 1062.5,378.2 1063.0,378.5 1063.5,377.4 1064.0,377.6 1064.5,376.2 1065.0,378.4 1065.5,376.4 1066.0,375.5 1066.5,375.0 1067.0,377.0 1067.5,376.2 1068.0,376.7 1068.5,375.5 1069.0,373.6 1069.5,374.8 1070.0,373.7 1070.5,372.2 1071.0,372.4 1071.5,373.6 1072.0,375.4 1072.5,372.5 1073.0,370.0 1073.5,372.2 1074.0,372.4 1074.5,371.4 1075.0,371.9 1075.5,372.3 1076.0,373.7 1076.5,371.9 1077.0,372.4 1077.5,370.6 1078.0,369.4 1078.5,369.7 1079.0,367.9 1079.5,366.6 1080.0,368.4 1080.5,365.7 1081.0,366.6 1081.5,366.4 1082.0,366.0 1082.5,364.5 1083.0,362.8 1083.5,363.4 1084.0,362.9 1084.5,363.3 1085.0,363.9 1085.5,363.1 1086.0,362.1 1086.5,363.0 1087.0,362.0 1087.5,361.1 1088.0,361.2 1088.5,361.7 1089.0,363.9 1089.5,364.2 1090.0,360.8 1090.5,358.9 1091.0,359.3 1091.5,359.8 1092.0,359.1 1092.5,361.2 1093.0,360.9 1093.5,361.1 1094.0,358.7 1094.5,356.7 1095.0,355.3 1095.5,355.6 1096.0,354.1 1096.5,353.9 1097.0,353.8 1097.5,355.1 1098.0,353.9 1098.5,352.0 1099.0,351.9 1099.5,352.4 1100.0,352.9 1100.5,351.3 1101.0,352.1 1101.5,353.3 1102.0,352.8 1102.5,352.1 1103.0,351.0 1103.5,350.3 1104.0,348.4 1104.5,350.6 1105.0,350.9 1105.5,351.9 1106.0,353.1 1106.5,352.6 1107.0,354.8 1107.5,355.3 1108.0,357.6 1108.5,357.6 1109.0,358.3 1109.5,358.4 1110.0,360.9 1110.5,358.4 1111.0,359.4 1111.5,360.5 1112.0,360.0 1112.5,361.0 1113.0,360.4 1113.5,363.3 1114.0,363.4 1114.5,366.0 1115.0,367.1 1115.5,367.4 1116.0,367.2 1116.5,368.4 1117.0,370.5 1117.5,371.3 1118.0,372.7 1118.5,371.8 1119.0,374.0 1119.5,372.9 1120.0,371.3 1120.5,372.8 1121.0,373.2 1121.5,371.3 1122.0,369.5 1122.5,369.8 1123.0,367.3 1123.5,367.7 1124.0,364.8 1124.5,364.3 1125.0,363.7 1125.5,364.4 1126.0,360.8 1126.5,361.0 1127.0,360.4 1127.5,360.1 1128.0,358.7 1128.5,357.4 1129.0,357.5 1129.5,357.6 1130.0,359.5 1130.5,358.7 1131.0,357.9 1131.5,358.2 1132.0,355.5 1132.5,356.7 1133.0,357.4 1133.5,357.6 1134.0,356.1 1134.5,354.2 1135.0,353.4 1135.5,354.3 1136.0,355.1 1136.5,356.2 1137.0,356.9 1137.5,356.5 1138.0,355.3 1138.5,355.0 1139.0,354.2 1139.5,355.3 1140.0,355.4 1140.5,355.2 1141.0,353.7 1141.5,355.9 1142.0,354.4 1142.5,357.2 1143.0,358.8 1143.5,357.1 1144.0,358.5 1144.5,358.3 1145.0,360.0 1145.5,362.2 1146.0,363.0 1146.5,362.5 1147.0,364.6 1147.5,366.1 1148.0,366.9 1148.5,366.5 1149.0,367.5 1149.5,369.0 1150.0,369.4 1150.5,372.5 1151.0,372.1 1151.5,371.7 1152.0,372.4 1152.5,371.3 1153.0,372.6 1153.5,374.9 1154.0,373.4 1154.5,374.2 1155.0,375.3 1155.5,373.3 1156.0,376.2 1156.5,374.8 1157.0,375.0 1157.5,376.1 1158.0,376.1 1158.5,377.4 1159.0,377.4 1159.5,378.0 1160.0,377.8 1160.5,379.3 1161.0,376.2 1161.5,377.4 1162.0,377.3 1162.5,376.6 1163.0,376.5 1163.5,376.7 1164.0,378.3 1164.5,377.4 1165.0,377.8 1165.5,378.6 1166.0,377.4 1166.5,379.5 1167.0,382.1 1167.5,379.8 1168.0,380.6 1168.5,379.6 1169.0,380.1 1169.5,379.6 1170.0,382.2 1170.5,380.5 1171.0,381.1 1171.5,381.1 1172.0,379.3 1172.5,377.1 1173.0,379.3 1173.5,380.7 1174.0,379.8 1174.5,379.3 1175.0,380.9 1175.5,381.6 1176.0,382.1 1176.5,381.6 1177.0,380.2 1177.5,379.0 1178.0,377.6 1178.5,379.1 1179.0,382.2 1179.5,382.1 1180.0,381.4 1180.5,379.5 1181.0,379.5 1181.5,380.3 1182.0,380.5 1182.5,382.0 1183.0,381.5 1183.5,382.2 1184.0,381.7 1184.5,381.4 1185.0,383.0 1185.5,381.4 1186.0,381.3 1186.5,380.0 1187.0,381.0 1187.5,382.7 1188.0,383.1 1188.5,383.4 1189.0,384.0 1189.5,383.8 1190.0,383.8 1190.5,383.5 1191.0,381.8 1191.5,382.7 1192.0,383.6 1192.5,382.0 1193.0,382.5 1193.5,383.8 1194.0,382.8 1194.5,381.2 1195.0,382.0 1195.5,384.2 1196.0,382.4 1196.5,382.5 1197.0,381.8 1197.5,382.0 1198.0,382.7 1198.5,384.6 1199.0,383.0 1199.5,382.2 1200.0,381.7 1200.5,381.1 1201.0,380.4 1201.5,380.8 1202.0,381.9 1202.5,382.7 1203.0,384.3 1203.5,382.9 1204.0,382.2 1204.5,381.9"/>
<polyline fill="none" stroke="#00D08A" stroke-width="4.8" stroke-linejoin="round" points="102.0,770.2 102.5,770.5 103.0,768.2 103.5,771.5 104.0,769.2 104.5,769.1 105.0,770.7 105.5,769.5 106.0,769.1 106.5,769.2 107.0,770.9 107.5,773.8 108.0,772.7 108.5,770.8 109.0,771.8 109.5,771.0 110.0,771.3 110.5,772.8 111.0,771.4 111.5,771.6 112.0,770.7 112.5,771.1 113.0,771.8 113.5,770.8 114.0,771.0 114.5,771.2 115.0,770.9 115.5,770.2 116.0,769.5 116.5,770.7 117.0,771.2 117.5,774.3 118.0,770.5 118.5,771.5 119.0,772.4 119.5,774.0 120.0,773.8 120.5,772.1 121.0,772.3 121.5,773.0 122.0,772.4 122.5,773.4 123.0,770.8 123.5,773.7 124.0,774.8 124.5,773.3 125.0,773.7 125.5,773.2 126.0,772.0 126.5,772.4 127.0,773.7 127.5,772.8 128.0,772.3 128.5,772.4 129.0,773.1 129.5,774.3 130.0,772.8 130.5,773.3 131.0,773.3 131.5,770.8 132.0,771.3 132.5,771.8 133.0,772.2 133.5,772.8 134.0,770.4 134.5,771.6 135.0,771.3 135.5,770.3 136.0,772.1 136.5,773.2 137.0,772.1 137.5,773.3 138.0,772.5 138.5,772.6 139.0,771.3 139.5,773.7 140.0,770.0 140.5,771.1 141.0,772.6 141.5,770.2 142.0,771.1 142.5,771.6 143.0,772.9 143.5,774.1 144.0,772.7 144.5,770.9 145.0,773.2 145.5,774.1 146.0,772.6 146.5,772.8 147.0,772.9 147.5,773.2 148.0,772.9 148.5,774.1 149.0,771.1 149.5,772.8 150.0,772.8 150.5,772.2 151.0,773.4 151.5,770.0 152.0,772.3 152.5,772.6 153.0,770.9 153.5,771.9 154.0,771.5 154.5,774.7 155.0,775.4 155.5,774.1 156.0,772.1 156.5,771.3 157.0,771.1 157.5,770.8 158.0,770.2 158.5,770.3 159.0,770.7 159.5,770.6 160.0,770.3 160.5,769.9 161.0,773.7 161.5,771.0 162.0,770.2 162.5,771.4 163.0,771.1 163.5,771.9 164.0,772.7 164.5,773.6 165.0,773.5 165.5,771.4 166.0,772.8 166.5,770.1 167.0,770.7 167.5,770.6 168.0,769.8 168.5,771.4 169.0,771.2 169.5,772.6 170.0,770.3 170.5,771.9 171.0,772.3 171.5,772.0 172.0,770.1 172.5,770.5 173.0,769.2 173.5,768.0 174.0,773.5 174.5,773.6 175.0,774.6 175.5,772.5 176.0,772.8 176.5,772.9 177.0,772.9 177.5,772.2 178.0,771.5 178.5,769.1 179.0,771.0 179.5,771.7 180.0,772.8 180.5,771.8 181.0,773.6 181.5,772.0 182.0,770.2 182.5,771.9 183.0,771.1 183.5,769.8 184.0,770.7 184.5,771.9 185.0,771.9 185.5,772.2 186.0,776.5 186.5,774.8 187.0,774.8 187.5,770.8 188.0,771.5 188.5,772.3 189.0,771.4 189.5,770.3 190.0,771.3 190.5,770.9 191.0,770.4 191.5,772.1 192.0,773.2 192.5,772.6 193.0,771.4 193.5,771.9 194.0,772.5 194.5,772.6 195.0,770.2 195.5,770.3 196.0,771.2 196.5,771.9 197.0,772.6 197.5,772.8 198.0,770.6 198.5,770.1 199.0,769.2 199.5,772.2 200.0,771.9 200.5,772.1 201.0,772.8 201.5,771.5 202.0,770.0 202.5,770.0 203.0,770.3 203.5,772.4 204.0,772.7 204.5,770.6 205.0,771.5 205.5,772.1 206.0,770.3 206.5,770.5 207.0,768.5 207.5,770.1 208.0,770.1 208.5,768.9 209.0,769.0 209.5,770.2 210.0,769.8 210.5,770.6 211.0,771.3 211.5,770.0 212.0,770.0 212.5,772.8 213.0,771.8 213.5,770.3 214.0,770.5 214.5,769.0 215.0,771.1 215.5,771.2 216.0,772.1 216.5,772.3 217.0,771.8 217.5,772.2 218.0,771.5 218.5,770.2 219.0,769.1 219.5,769.2 220.0,766.9 220.5,770.7 221.0,768.5 221.5,769.3 222.0,768.2 222.5,766.9 223.0,768.4 223.5,768.9 224.0,769.3 224.5,770.3 225.0,769.5 225.5,770.2 226.0,770.7 226.5,769.9 227.0,769.6 227.5,770.4 228.0,770.2 228.5,770.2 229.0,767.3 229.5,768.6 230.0,769.6 230.5,769.5 231.0,770.0 231.5,772.0 232.0,771.0 232.5,771.1 233.0,769.4 233.5,768.5 234.0,768.5 234.5,767.8 235.0,768.7 235.5,768.0 236.0,768.5 236.5,767.3 237.0,766.5 237.5,767.2 238.0,767.0 238.5,767.4 239.0,767.7 239.5,768.1 240.0,769.9 240.5,771.1 241.0,771.0 241.5,769.7 242.0,771.1 242.5,768.4 243.0,766.4 243.5,768.0 244.0,768.5 244.5,768.6 245.0,768.8 245.5,767.0 246.0,766.6 246.5,769.2 247.0,770.2 247.5,768.7 248.0,770.9 248.5,768.6 249.0,768.0 249.5,768.7 250.0,767.3 250.5,767.4 251.0,767.8 251.5,767.7 252.0,769.1 252.5,769.5 253.0,767.7 253.5,767.3 254.0,768.0 254.5,768.1 255.0,767.3 255.5,768.2 256.0,769.2 256.5,767.9 257.0,768.9 257.5,766.6 258.0,765.5 258.5,767.3 259.0,766.7 259.5,766.1 260.0,766.7 260.5,766.5 261.0,767.5 261.5,765.9 262.0,766.3 262.5,770.6 263.0,769.1 263.5,766.1 264.0,767.4 264.5,767.9 265.0,769.1 265.5,768.2 266.0,766.8 266.5,768.4 267.0,768.4 267.5,765.4 268.0,766.8 268.5,766.4 269.0,767.6 269.5,766.5 270.0,767.2 270.5,766.8 271.0,767.1 271.5,766.4 272.0,765.6 272.5,765.7 273.0,766.4 273.5,766.4 274.0,767.8 274.5,767.1 275.0,766.9 275.5,768.5 276.0,766.9 276.5,766.6 277.0,765.2 277.5,765.2 278.0,767.0 278.5,766.4 279.0,767.3 279.5,764.9 280.0,763.4 280.5,764.5 281.0,763.2 281.5,767.2 282.0,767.5 282.5,764.8 283.0,764.7 283.5,764.2 284.0,765.1 284.5,765.0 285.0,766.1 285.5,767.2 286.0,765.9 286.5,764.1 287.0,765.2 287.5,764.9 288.0,766.3 288.5,765.5 289.0,766.2 289.5,766.0 290.0,765.3 290.5,764.6 291.0,765.6 291.5,768.2 292.0,767.6 292.5,766.1 293.0,766.4 293.5,765.8 294.0,763.9 294.5,764.8 295.0,766.7 295.5,765.5 296.0,763.9 296.5,765.0 297.0,767.1 297.5,767.1 298.0,767.2 298.5,768.8 299.0,768.7 299.5,767.7 300.0,766.1 300.5,765.7 301.0,765.2 301.5,766.0 302.0,764.4 302.5,766.3 303.0,765.6 303.5,764.5 304.0,765.3 304.5,762.3 305.0,762.1 305.5,762.1 306.0,763.7 306.5,762.9 307.0,764.6 307.5,763.2 308.0,763.5 308.5,762.1 309.0,763.5 309.5,762.4 310.0,762.7 310.5,761.6 311.0,760.2 311.5,760.4 312.0,761.9 312.5,760.2 313.0,758.6 313.5,759.2 314.0,760.7 314.5,759.2 315.0,759.0 315.5,759.7 316.0,759.4 316.5,759.9 317.0,761.2 317.5,760.4 318.0,759.9 318.5,760.5 319.0,759.9 319.5,758.4 320.0,757.6 320.5,757.0 321.0,760.1 321.5,759.3 322.0,759.6 322.5,759.8 323.0,758.0 323.5,758.7 324.0,757.7 324.5,755.3 325.0,756.2 325.5,755.5 326.0,755.9 326.5,756.8 327.0,759.3 327.5,757.2 328.0,756.4 328.5,756.4 329.0,755.9 329.5,755.0 330.0,753.2 330.5,752.1 331.0,752.2 331.5,750.8 332.0,750.3 332.5,749.1 333.0,750.9 333.5,748.4 334.0,750.7 334.5,748.6 335.0,746.6 335.5,745.1 336.0,746.2 336.5,746.6 337.0,744.2 337.5,743.9 338.0,742.8 338.5,741.7 339.0,741.1 339.5,741.0 340.0,737.4 340.5,734.7 341.0,735.5 341.5,735.1 342.0,735.2 342.5,731.9 343.0,730.5 343.5,732.0 344.0,728.9 344.5,728.6 345.0,726.5 345.5,725.2 346.0,722.5 346.5,723.3 347.0,719.3 347.5,717.2 348.0,715.7 348.5,716.5 349.0,715.2 349.5,714.4 350.0,712.6 350.5,711.4 351.0,710.5 351.5,710.7 352.0,708.6 352.5,705.0 353.0,705.6 353.5,704.2 354.0,701.5 354.5,700.8 355.0,699.0 355.5,701.3 356.0,699.3 356.5,696.1 357.0,697.0 357.5,696.0 358.0,697.9 358.5,697.6 359.0,695.4 359.5,696.2 360.0,696.3 360.5,697.2 361.0,698.4 361.5,698.0 362.0,700.9 362.5,701.7 363.0,702.6 363.5,705.5 364.0,708.8 364.5,707.9 365.0,710.6 365.5,707.7 366.0,709.6 366.5,709.4 367.0,710.2 367.5,709.8 368.0,710.3 368.5,711.1 369.0,711.7 369.5,713.1 370.0,716.3 370.5,714.7 371.0,714.8 371.5,713.4 372.0,712.1 372.5,716.4 373.0,716.0 373.5,717.0 374.0,718.9 374.5,721.5 375.0,722.7 375.5,725.6 376.0,725.2 376.5,723.6 377.0,725.5 377.5,726.7 378.0,726.5 378.5,727.1 379.0,727.5 379.5,730.5 380.0,729.6 380.5,728.5 381.0,730.2 381.5,728.8 382.0,730.9 382.5,732.1 383.0,731.5 383.5,731.7 384.0,731.8 384.5,734.6 385.0,734.7 385.5,733.0 386.0,732.2 386.5,733.1 387.0,733.7 387.5,733.0 388.0,733.9 388.5,733.7 389.0,735.0 389.5,734.7 390.0,733.9 390.5,733.6 391.0,732.0 391.5,733.1 392.0,732.9 392.5,731.6 393.0,731.3 393.5,730.2 394.0,732.9 394.5,730.5 395.0,730.2 395.5,729.5 396.0,727.6 396.5,727.2 397.0,726.4 397.5,726.3 398.0,725.9 398.5,725.9 399.0,725.5 399.5,723.4 400.0,721.6 400.5,720.1 401.0,718.3 401.5,715.8 402.0,716.5 402.5,715.3 403.0,713.8 403.5,710.7 404.0,708.5 404.5,705.5 405.0,706.0 405.5,706.4 406.0,705.6 406.5,703.5 407.0,700.3 407.5,699.0 408.0,697.3 408.5,696.2 409.0,694.8 409.5,691.8 410.0,689.5 410.5,688.2 411.0,686.3 411.5,683.6 412.0,679.0 412.5,677.6 413.0,677.7 413.5,676.0 414.0,675.2 414.5,672.5 415.0,670.7 415.5,669.6 416.0,668.0 416.5,665.9 417.0,664.5 417.5,663.0 418.0,661.1 418.5,655.4 419.0,652.5 419.5,649.8 420.0,646.9 420.5,642.5 421.0,642.1 421.5,637.6 422.0,634.9 422.5,629.0 423.0,626.5 423.5,623.7 424.0,619.6 424.5,617.4 425.0,616.1 425.5,609.4 426.0,603.7 426.5,601.1 427.0,595.4 427.5,588.4 428.0,580.5 428.5,575.6 429.0,569.3 429.5,564.6 430.0,556.5 430.5,550.0 431.0,543.2 431.5,536.4 432.0,531.2 432.5,525.3 433.0,518.0 433.5,512.7 434.0,508.3 434.5,504.8 435.0,500.7 435.5,496.5 436.0,493.0 436.5,489.8 437.0,487.4 437.5,485.4 438.0,483.8 438.5,482.6 439.0,482.1 439.5,483.1 440.0,484.4 440.5,486.2 441.0,489.0 441.5,492.1 442.0,495.6 442.5,498.5 443.0,501.4 443.5,505.2 444.0,508.0 444.5,511.6 445.0,514.4 445.5,516.9 446.0,519.0 446.5,526.3 447.0,529.0 447.5,532.6 448.0,535.8 448.5,539.6 449.0,544.4 449.5,547.7 450.0,550.9 450.5,555.4 451.0,556.2 451.5,561.0 452.0,565.4 452.5,565.6 453.0,569.2 453.5,570.6 454.0,572.0 454.5,575.7 455.0,580.8 455.5,585.3 456.0,588.0 456.5,590.6 457.0,594.1 457.5,597.4 458.0,600.9 458.5,602.3 459.0,607.2 459.5,611.5 460.0,617.9 460.5,621.0 461.0,623.2 461.5,626.2 462.0,629.6 462.5,631.6 463.0,632.6 463.5,636.1 464.0,639.9 464.5,643.5 465.0,645.7 465.5,647.8 466.0,651.0 466.5,654.3 467.0,657.9 467.5,660.0 468.0,662.9 468.5,663.8 469.0,667.2 469.5,668.6 470.0,668.3 470.5,669.9 471.0,671.7 471.5,671.8 472.0,674.4 472.5,675.0 473.0,676.7 473.5,676.3 474.0,678.0 474.5,679.7 475.0,679.5 475.5,679.9 476.0,679.9 476.5,681.0 477.0,681.3 477.5,681.9 478.0,681.5 478.5,679.8 479.0,678.8 479.5,679.0 480.0,680.0 480.5,682.2 481.0,681.5 481.5,679.1 482.0,675.9 482.5,676.9 483.0,676.4 483.5,674.4 484.0,675.5 484.5,674.6 485.0,673.3 485.5,670.4 486.0,671.8 486.5,670.9 487.0,669.5 487.5,667.3 488.0,666.2 488.5,666.8 489.0,665.5 489.5,665.7 490.0,664.0 490.5,661.4 491.0,659.9 491.5,657.4 492.0,653.4 492.5,651.3 493.0,650.0 493.5,646.5 494.0,643.8 494.5,640.2 495.0,640.2 495.5,635.3 496.0,631.8 496.5,628.9 497.0,628.4 497.5,627.2 498.0,623.7 498.5,622.4 499.0,618.9 499.5,617.2 500.0,618.3 500.5,615.8 501.0,612.4 501.5,608.3 502.0,607.0 502.5,604.8 503.0,602.6 503.5,601.8 504.0,600.7 504.5,599.4 505.0,598.7 505.5,597.1 506.0,597.2 506.5,596.3 507.0,596.5 507.5,597.0 508.0,597.8 508.5,599.1 509.0,599.8 509.5,600.7 510.0,601.7 510.5,603.7 511.0,605.2 511.5,606.9 512.0,609.3 512.5,612.0 513.0,613.9 513.5,615.1 514.0,618.4 514.5,619.6 515.0,621.1 515.5,626.7 516.0,630.0 516.5,635.6 517.0,636.5 517.5,642.0 518.0,645.6 518.5,652.8 519.0,655.3 519.5,658.3 520.0,662.8 520.5,666.8 521.0,670.3 521.5,675.9 522.0,680.6 522.5,685.5 523.0,689.4 523.5,692.0 524.0,695.1 524.5,699.7 525.0,701.5 525.5,706.7 526.0,708.5 526.5,709.7 527.0,713.4 527.5,715.1 528.0,718.3 528.5,719.7 529.0,723.0 529.5,722.9 530.0,721.5 530.5,722.3 531.0,723.2 531.5,726.9 532.0,730.7 532.5,731.0 533.0,730.4 533.5,733.0 534.0,734.6 534.5,735.0 535.0,736.6 535.5,737.5 536.0,737.0 536.5,739.4 537.0,739.6 537.5,739.7 538.0,740.9 538.5,744.0 539.0,746.3 539.5,747.2 540.0,745.8 540.5,744.8 541.0,746.1 541.5,746.5 542.0,747.4 542.5,746.6 543.0,746.8 543.5,746.9 544.0,749.3 544.5,751.1 545.0,750.2 545.5,751.5 546.0,752.4 546.5,751.5 547.0,752.1 547.5,753.5 548.0,752.3 548.5,754.4 549.0,754.0 549.5,754.3 550.0,754.2 550.5,752.9 551.0,754.5 551.5,755.1 552.0,755.0 552.5,755.3 553.0,756.3 553.5,756.3 554.0,756.0 554.5,756.6 555.0,757.9 555.5,757.8 556.0,756.9 556.5,758.4 557.0,758.0 557.5,758.9 558.0,758.6 558.5,757.6 559.0,756.8 559.5,757.0 560.0,757.9 560.5,756.2 561.0,758.4 561.5,760.5 562.0,760.0 562.5,758.9 563.0,757.8 563.5,759.5 564.0,760.7 564.5,760.9 565.0,761.9 565.5,760.8 566.0,760.9 566.5,761.6 567.0,761.5 567.5,762.3 568.0,762.8 568.5,762.3 569.0,761.3 569.5,761.1 570.0,763.2 570.5,761.7 571.0,762.4 571.5,761.7 572.0,765.2 572.5,763.6 573.0,764.3 573.5,762.9 574.0,767.1 574.5,764.0 575.0,764.5 575.5,762.9 576.0,764.6 576.5,763.1 577.0,763.3 577.5,762.2 578.0,763.1 578.5,764.0 579.0,766.6 579.5,763.3 580.0,764.9 580.5,765.2 581.0,764.7 581.5,765.0 582.0,765.8 582.5,765.8 583.0,765.9 583.5,765.1 584.0,765.2 584.5,766.4 585.0,765.4 585.5,765.4 586.0,766.1 586.5,766.9 587.0,767.3 587.5,766.9 588.0,764.7 588.5,766.8 589.0,768.2 589.5,769.2 590.0,768.7 590.5,769.1 591.0,768.1 591.5,766.7 592.0,767.1 592.5,767.2 593.0,768.8 593.5,769.4 594.0,768.2 594.5,767.7 595.0,768.0 595.5,768.3 596.0,770.0 596.5,768.7 597.0,770.1 597.5,767.8 598.0,767.5 598.5,770.0 599.0,769.9 599.5,769.5 600.0,769.9 600.5,769.2 601.0,769.1 601.5,769.3 602.0,769.5 602.5,769.7 603.0,768.8 603.5,769.4 604.0,768.5 604.5,769.6 605.0,769.3 605.5,769.6 606.0,769.8 606.5,768.8 607.0,768.5 607.5,768.8 608.0,769.7 608.5,770.7 609.0,770.1 609.5,769.1 610.0,769.7 610.5,769.7 611.0,770.6 611.5,771.5 612.0,772.9 612.5,769.5 613.0,769.1 613.5,769.4 614.0,770.5 614.5,771.0 615.0,770.6 615.5,771.1 616.0,770.0 616.5,769.6 617.0,770.2 617.5,768.9 618.0,771.3 618.5,769.8 619.0,768.7 619.5,769.8 620.0,767.8 620.5,768.6 621.0,769.2 621.5,771.2 622.0,774.3 622.5,772.5 623.0,770.0 623.5,770.5 624.0,771.2 624.5,769.8 625.0,770.5 625.5,772.3 626.0,772.0 626.5,770.4 627.0,769.9 627.5,768.4 628.0,769.0 628.5,769.2 629.0,771.6 629.5,769.4 630.0,768.3 630.5,769.8 631.0,771.0 631.5,770.3 632.0,770.8 632.5,771.7 633.0,772.2 633.5,772.0 634.0,772.2 634.5,769.9 635.0,771.4 635.5,771.5 636.0,770.4 636.5,770.4 637.0,770.5 637.5,770.3 638.0,770.7 638.5,770.6 639.0,769.4 639.5,772.9 640.0,772.7 640.5,774.7 641.0,772.8 641.5,774.1 642.0,772.8 642.5,774.0 643.0,774.0 643.5,773.8 644.0,772.6 644.5,772.5 645.0,773.7 645.5,770.6 646.0,770.5 646.5,769.8 647.0,769.9 647.5,771.7 648.0,772.8 648.5,772.2 649.0,773.5 649.5,772.0 650.0,771.4 650.5,771.9 651.0,772.5 651.5,772.2 652.0,771.0 652.5,772.2 653.0,774.2 653.5,772.7 654.0,772.3 654.5,770.5 655.0,770.7 655.5,769.5 656.0,769.9 656.5,771.4 657.0,770.7 657.5,768.7 658.0,769.1 658.5,766.3 659.0,768.0 659.5,767.6 660.0,765.8 660.5,765.6 661.0,764.7 661.5,767.5 662.0,767.2 662.5,765.1 663.0,764.3 663.5,764.8 664.0,764.1 664.5,764.6 665.0,764.9 665.5,762.9 666.0,764.2 666.5,765.9 667.0,765.2 667.5,765.1 668.0,763.6 668.5,762.9 669.0,763.3 669.5,762.1 670.0,760.6 670.5,762.6 671.0,761.8 671.5,762.3 672.0,762.4 672.5,762.7 673.0,763.0 673.5,763.0 674.0,762.0 674.5,762.7 675.0,761.6 675.5,761.8 676.0,760.7 676.5,760.9 677.0,759.9 677.5,761.8 678.0,761.5 678.5,760.0 679.0,758.0 679.5,758.1 680.0,760.4 680.5,759.2 681.0,760.4 681.5,759.5 682.0,758.9 682.5,757.6 683.0,758.4 683.5,759.6 684.0,759.8 684.5,759.5 685.0,757.5 685.5,757.7 686.0,756.3 686.5,755.8 687.0,756.8 687.5,755.6 688.0,756.6 688.5,756.1 689.0,757.7 689.5,756.5 690.0,756.5 690.5,756.9 691.0,756.4 691.5,756.0 692.0,752.8 692.5,754.0 693.0,751.4 693.5,750.9 694.0,748.4 694.5,749.2 695.0,749.0 695.5,749.1 696.0,748.0 696.5,748.2 697.0,747.4 697.5,747.4 698.0,748.4 698.5,745.2 699.0,745.8 699.5,745.8 700.0,744.0 700.5,744.2 701.0,746.2 701.5,745.7 702.0,744.3 702.5,744.8 703.0,744.4 703.5,742.2 704.0,741.9 704.5,741.9 705.0,741.7 705.5,741.8 706.0,741.3 706.5,740.8 707.0,739.7 707.5,739.0 708.0,738.3 708.5,738.9 709.0,738.3 709.5,737.2 710.0,738.0 710.5,740.1 711.0,738.0 711.5,738.4 712.0,736.3 712.5,736.0 713.0,736.5 713.5,736.9 714.0,738.1 714.5,735.5 715.0,734.7 715.5,735.7 716.0,736.0 716.5,733.5 717.0,733.1 717.5,734.0 718.0,734.7 718.5,732.5 719.0,732.9 719.5,730.1 720.0,732.6 720.5,734.8 721.0,732.8 721.5,733.0 722.0,732.0 722.5,732.8 723.0,734.7 723.5,736.0 724.0,736.7 724.5,735.3 725.0,735.6 725.5,739.1 726.0,739.3 726.5,738.9 727.0,739.8 727.5,739.5 728.0,740.6 728.5,740.4 729.0,740.8 729.5,740.4 730.0,744.3 730.5,745.5 731.0,746.3 731.5,747.4 732.0,747.2 732.5,746.3 733.0,748.1 733.5,749.5 734.0,750.3 734.5,749.9 735.0,748.7 735.5,751.0 736.0,751.9 736.5,752.1 737.0,752.2 737.5,752.6 738.0,752.5 738.5,751.7 739.0,753.0 739.5,753.5 740.0,754.8 740.5,754.9 741.0,755.9 741.5,754.8 742.0,756.4 742.5,759.2 743.0,758.3 743.5,758.8 744.0,759.5 744.5,759.4 745.0,759.4 745.5,757.5 746.0,757.5 746.5,760.4 747.0,760.4 747.5,760.6 748.0,762.8 748.5,759.9 749.0,761.7 749.5,762.3 750.0,759.7 750.5,760.1 751.0,761.6 751.5,761.2 752.0,761.1 752.5,762.7 753.0,762.7 753.5,763.3 754.0,763.3 754.5,763.7 755.0,764.2 755.5,766.7 756.0,766.0 756.5,764.5 757.0,765.1 757.5,765.3 758.0,769.0 758.5,765.4 759.0,766.2 759.5,766.1 760.0,767.6 760.5,765.4 761.0,764.2 761.5,765.4 762.0,766.6 762.5,766.8 763.0,767.2 763.5,766.6 764.0,767.6 764.5,767.1 765.0,766.2 765.5,768.0 766.0,766.3 766.5,764.6 767.0,765.2 767.5,765.8 768.0,766.2 768.5,766.2 769.0,767.0 769.5,766.6 770.0,765.8 770.5,768.0 771.0,767.4 771.5,768.5 772.0,768.1 772.5,768.2 773.0,769.5 773.5,766.3 774.0,768.2 774.5,767.9 775.0,768.7 775.5,767.6 776.0,767.7 776.5,767.5 777.0,766.4 777.5,767.0 778.0,769.5 778.5,770.2 779.0,770.7 779.5,769.2 780.0,768.5 780.5,767.9 781.0,765.7 781.5,766.8 782.0,766.8 782.5,768.7 783.0,769.8 783.5,769.8 784.0,768.3 784.5,768.0 785.0,770.1 785.5,770.0 786.0,770.8 786.5,769.6 787.0,770.6 787.5,769.7 788.0,769.1 788.5,769.7 789.0,769.0 789.5,768.1 790.0,770.6 790.5,771.1 791.0,770.1 791.5,770.1 792.0,771.4 792.5,770.3 793.0,767.5 793.5,771.5 794.0,769.2 794.5,769.2 795.0,767.2 795.5,766.2 796.0,768.6 796.5,767.9 797.0,769.8 797.5,769.7 798.0,769.7 798.5,770.5 799.0,770.9 799.5,771.9 800.0,769.2 800.5,768.5 801.0,769.7 801.5,770.4 802.0,769.1 802.5,767.7 803.0,768.3 803.5,765.1 804.0,764.9 804.5,768.0 805.0,766.7 805.5,769.8 806.0,769.1 806.5,768.8 807.0,771.4 807.5,770.6 808.0,768.7 808.5,767.5 809.0,766.7 809.5,764.6 810.0,766.3 810.5,766.7 811.0,766.1 811.5,767.5 812.0,766.5 812.5,764.6 813.0,764.3 813.5,765.3 814.0,766.2 814.5,768.4 815.0,766.8 815.5,767.0 816.0,767.7 816.5,767.4 817.0,766.9 817.5,765.0 818.0,764.8 818.5,767.6 819.0,766.7 819.5,765.9 820.0,764.2 820.5,764.9 821.0,766.9 821.5,765.2 822.0,763.9 822.5,764.2 823.0,763.8 823.5,763.3 824.0,766.3 824.5,766.2 825.0,763.5 825.5,763.7 826.0,764.9 826.5,764.0 827.0,764.9 827.5,763.0 828.0,763.9 828.5,763.7 829.0,764.3 829.5,763.8 830.0,762.9 830.5,763.6 831.0,764.0 831.5,764.4 832.0,762.3 832.5,762.2 833.0,762.5 833.5,762.5 834.0,762.5 834.5,762.9 835.0,764.7 835.5,765.9 836.0,765.9 836.5,765.3 837.0,760.6 837.5,761.2 838.0,763.0 838.5,762.2 839.0,764.2 839.5,763.2 840.0,763.7 840.5,763.3 841.0,764.0 841.5,762.4 842.0,763.0 842.5,762.7 843.0,762.4 843.5,761.6 844.0,764.3 844.5,763.3 845.0,765.0 845.5,764.9 846.0,765.6 846.5,765.4 847.0,765.4 847.5,764.0 848.0,767.9 848.5,768.0 849.0,768.1 849.5,764.5 850.0,764.5 850.5,764.5 851.0,765.5 851.5,765.1 852.0,766.4 852.5,766.5 853.0,767.4 853.5,768.2 854.0,766.4 854.5,765.7 855.0,765.0 855.5,766.7 856.0,766.4 856.5,765.9 857.0,764.7 857.5,765.9 858.0,766.0 858.5,766.2 859.0,765.8 859.5,764.3 860.0,766.6 860.5,766.2 861.0,766.3 861.5,765.2 862.0,766.9 862.5,765.3 863.0,764.8 863.5,764.1 864.0,763.4 864.5,765.1 865.0,764.5 865.5,763.5 866.0,763.9 866.5,763.8 867.0,763.9 867.5,763.1 868.0,763.5 868.5,761.3 869.0,760.8 869.5,762.2 870.0,762.8 870.5,759.9 871.0,760.6 871.5,760.3 872.0,761.2 872.5,758.9 873.0,759.1 873.5,759.5 874.0,756.9 874.5,756.2 875.0,757.4 875.5,756.4 876.0,756.8 876.5,755.9 877.0,753.3 877.5,753.4 878.0,753.3 878.5,751.9 879.0,752.6 879.5,749.9 880.0,749.6 880.5,748.8 881.0,747.5 881.5,745.8 882.0,743.9 882.5,743.7 883.0,744.5 883.5,744.2 884.0,744.4 884.5,744.3 885.0,743.9 885.5,744.4 886.0,745.3 886.5,743.0 887.0,743.8 887.5,741.9 888.0,745.4 888.5,743.4 889.0,743.0 889.5,744.2 890.0,744.2 890.5,744.7 891.0,745.4 891.5,743.7 892.0,745.3 892.5,743.0 893.0,742.2 893.5,743.0 894.0,739.6 894.5,739.8 895.0,740.3 895.5,741.6 896.0,740.5 896.5,741.7 897.0,740.0 897.5,741.5 898.0,742.0 898.5,740.9 899.0,740.7 899.5,740.8 900.0,740.8 900.5,740.7 901.0,743.1 901.5,743.4 902.0,743.8 902.5,741.9 903.0,742.9 903.5,745.0 904.0,745.1 904.5,744.6 905.0,745.1 905.5,746.6 906.0,746.4 906.5,744.3 907.0,744.9 907.5,746.4 908.0,745.3 908.5,746.7 909.0,748.0 909.5,750.8 910.0,751.4 910.5,750.6 911.0,747.8 911.5,748.8 912.0,747.5 912.5,747.3 913.0,749.8 913.5,749.0 914.0,750.3 914.5,750.5 915.0,751.5 915.5,750.8 916.0,750.6 916.5,752.6 917.0,752.7 917.5,752.4 918.0,752.0 918.5,752.5 919.0,752.1 919.5,752.8 920.0,752.4 920.5,750.4 921.0,749.6 921.5,750.4 922.0,753.9 922.5,755.0 923.0,753.5 923.5,752.4 924.0,752.1 924.5,752.4 925.0,754.1 925.5,752.9 926.0,751.3 926.5,751.6 927.0,750.9 927.5,753.7 928.0,753.2 928.5,753.3 929.0,753.1 929.5,750.8 930.0,752.2 930.5,753.2 931.0,752.7 931.5,753.3 932.0,752.8 932.5,752.9 933.0,754.1 933.5,753.5 934.0,754.4 934.5,754.6 935.0,754.9 935.5,754.7 936.0,754.7 936.5,755.8 937.0,758.0 937.5,758.4 938.0,759.9 938.5,759.5 939.0,757.7 939.5,760.2 940.0,760.2 940.5,761.7 941.0,762.2 941.5,762.8 942.0,762.8 942.5,759.1 943.0,761.8 943.5,762.7 944.0,763.9 944.5,764.8 945.0,764.8 945.5,765.4 946.0,763.4 946.5,764.3 947.0,765.6 947.5,766.3 948.0,765.0 948.5,763.4 949.0,764.1 949.5,765.2 950.0,766.1 950.5,768.1 951.0,768.8 951.5,766.8 952.0,767.5 952.5,766.7 953.0,767.7 953.5,766.6 954.0,768.3 954.5,767.1 955.0,766.8 955.5,766.0 956.0,767.7 956.5,767.7 957.0,768.1 957.5,768.7 958.0,767.2 958.5,769.4 959.0,769.5 959.5,768.9 960.0,768.4 960.5,767.9 961.0,767.3 961.5,768.7 962.0,768.6 962.5,768.3 963.0,767.6 963.5,768.0 964.0,770.4 964.5,769.8 965.0,766.7 965.5,764.7 966.0,767.2 966.5,766.0 967.0,767.3 967.5,768.3 968.0,768.8 968.5,770.4 969.0,768.5 969.5,768.1 970.0,766.9 970.5,765.5 971.0,765.2 971.5,767.6 972.0,768.7 972.5,766.5 973.0,767.2 973.5,766.3 974.0,767.0 974.5,765.2 975.0,765.6 975.5,765.4 976.0,764.0 976.5,763.5 977.0,763.2 977.5,763.4 978.0,765.2 978.5,765.8 979.0,765.9 979.5,764.5 980.0,764.0 980.5,761.3 981.0,760.9 981.5,761.7 982.0,760.9 982.5,759.2 983.0,759.4 983.5,759.0 984.0,758.5 984.5,757.3 985.0,757.9 985.5,757.0 986.0,755.7 986.5,755.8 987.0,756.3 987.5,757.3 988.0,757.3 988.5,753.9 989.0,755.2 989.5,755.1 990.0,754.8 990.5,755.6 991.0,756.1 991.5,755.0 992.0,753.5 992.5,752.0 993.0,752.0 993.5,752.1 994.0,750.7 994.5,752.6 995.0,753.2 995.5,752.6 996.0,753.3 996.5,752.3 997.0,750.1 997.5,750.3 998.0,751.5 998.5,749.3 999.0,746.8 999.5,748.0 1000.0,745.2 1000.5,744.5 1001.0,745.5 1001.5,745.0 1002.0,747.0 1002.5,745.9 1003.0,745.9 1003.5,746.3 1004.0,745.1 1004.5,745.0 1005.0,742.2 1005.5,745.1 1006.0,744.3 1006.5,743.4 1007.0,742.5 1007.5,743.1 1008.0,742.5 1008.5,743.2 1009.0,742.6 1009.5,741.6 1010.0,742.0 1010.5,742.3 1011.0,744.0 1011.5,744.7 1012.0,744.6 1012.5,745.6 1013.0,745.2 1013.5,745.9 1014.0,746.1 1014.5,747.1 1015.0,746.3 1015.5,746.8 1016.0,747.2 1016.5,746.2 1017.0,747.0 1017.5,747.3 1018.0,748.4 1018.5,746.6 1019.0,745.1 1019.5,744.0 1020.0,745.4 1020.5,745.1 1021.0,744.2 1021.5,745.0 1022.0,746.0 1022.5,747.5 1023.0,747.3 1023.5,745.0 1024.0,746.1 1024.5,744.0 1025.0,744.3 1025.5,744.8 1026.0,742.5 1026.5,743.2 1027.0,743.6 1027.5,746.2 1028.0,744.3 1028.5,745.0 1029.0,744.3 1029.5,744.4 1030.0,743.3 1030.5,745.1 1031.0,746.3 1031.5,747.0 1032.0,744.1 1032.5,742.6 1033.0,744.0 1033.5,746.2 1034.0,747.1 1034.5,746.4 1035.0,745.7 1035.5,748.2 1036.0,749.3 1036.5,747.5 1037.0,747.5 1037.5,747.6 1038.0,750.3 1038.5,750.2 1039.0,750.7 1039.5,748.9 1040.0,749.4 1040.5,749.4 1041.0,749.9 1041.5,750.6 1042.0,750.7 1042.5,749.8 1043.0,752.2 1043.5,751.2 1044.0,751.2 1044.5,750.2 1045.0,752.5 1045.5,753.7 1046.0,753.6 1046.5,753.5 1047.0,754.9 1047.5,755.2 1048.0,754.7 1048.5,756.3 1049.0,757.8 1049.5,757.9 1050.0,758.6 1050.5,758.3 1051.0,759.7 1051.5,759.7 1052.0,758.3 1052.5,759.3 1053.0,759.0 1053.5,757.9 1054.0,757.2 1054.5,757.4 1055.0,755.5 1055.5,756.0 1056.0,756.6 1056.5,755.7 1057.0,756.1 1057.5,756.1 1058.0,755.5 1058.5,756.9 1059.0,757.9 1059.5,758.6 1060.0,759.9 1060.5,759.0 1061.0,758.2 1061.5,758.3 1062.0,759.7 1062.5,760.8 1063.0,758.9 1063.5,758.9 1064.0,758.3 1064.5,758.7 1065.0,755.5 1065.5,756.1 1066.0,754.6 1066.5,752.4 1067.0,755.2 1067.5,755.1 1068.0,757.5 1068.5,758.0 1069.0,758.8 1069.5,758.5 1070.0,756.9 1070.5,756.9 1071.0,754.7 1071.5,753.9 1072.0,755.3 1072.5,757.5 1073.0,756.6 1073.5,754.6 1074.0,754.7 1074.5,755.4 1075.0,756.1 1075.5,755.4 1076.0,756.7 1076.5,756.5 1077.0,755.5 1077.5,754.0 1078.0,756.3 1078.5,754.0 1079.0,752.9 1079.5,751.5 1080.0,752.0 1080.5,749.8 1081.0,751.2 1081.5,749.2 1082.0,750.7 1082.5,748.8 1083.0,747.9 1083.5,747.9 1084.0,748.8 1084.5,748.6 1085.0,747.4 1085.5,747.6 1086.0,748.3 1086.5,745.7 1087.0,747.7 1087.5,746.9 1088.0,743.3 1088.5,744.4 1089.0,744.3 1089.5,743.6 1090.0,743.1 1090.5,742.5 1091.0,743.3 1091.5,742.8 1092.0,742.8 1092.5,741.6 1093.0,742.5 1093.5,741.1 1094.0,741.1 1094.5,740.1 1095.0,739.5 1095.5,740.2 1096.0,740.4 1096.5,739.4 1097.0,738.9 1097.5,738.0 1098.0,738.5 1098.5,738.4 1099.0,738.8 1099.5,738.2 1100.0,737.6 1100.5,738.3 1101.0,737.5 1101.5,738.1 1102.0,738.8 1102.5,739.6 1103.0,738.6 1103.5,738.3 1104.0,738.8 1104.5,738.3 1105.0,738.6 1105.5,738.3 1106.0,738.0 1106.5,737.1 1107.0,737.7 1107.5,738.5 1108.0,738.7 1108.5,738.2 1109.0,738.6 1109.5,740.3 1110.0,739.4 1110.5,738.4 1111.0,740.5 1111.5,739.1 1112.0,740.8 1112.5,740.6 1113.0,738.3 1113.5,738.6 1114.0,738.7 1114.5,738.8 1115.0,738.8 1115.5,739.9 1116.0,740.1 1116.5,741.4 1117.0,740.2 1117.5,739.8 1118.0,740.5 1118.5,740.0 1119.0,739.4 1119.5,739.9 1120.0,738.7 1120.5,738.0 1121.0,738.4 1121.5,739.7 1122.0,740.7 1122.5,739.2 1123.0,738.9 1123.5,739.8 1124.0,740.1 1124.5,739.1 1125.0,740.5 1125.5,739.9 1126.0,739.8 1126.5,739.1 1127.0,740.7 1127.5,741.5 1128.0,740.3 1128.5,741.3 1129.0,741.5 1129.5,741.1 1130.0,739.9 1130.5,740.2 1131.0,738.5 1131.5,737.6 1132.0,737.3 1132.5,737.9 1133.0,738.9 1133.5,735.6 1134.0,735.8 1134.5,735.0 1135.0,735.8 1135.5,734.0 1136.0,736.4 1136.5,734.9 1137.0,736.2 1137.5,733.8 1138.0,734.5 1138.5,736.0 1139.0,736.3 1139.5,733.6 1140.0,732.1 1140.5,730.8 1141.0,732.3 1141.5,730.8 1142.0,733.7 1142.5,734.0 1143.0,734.8 1143.5,732.9 1144.0,732.3 1144.5,732.3 1145.0,730.6 1145.5,729.9 1146.0,731.4 1146.5,731.7 1147.0,732.5 1147.5,731.9 1148.0,733.9 1148.5,736.0 1149.0,736.4 1149.5,735.9 1150.0,737.5 1150.5,738.7 1151.0,739.0 1151.5,738.2 1152.0,737.1 1152.5,741.1 1153.0,742.0 1153.5,741.8 1154.0,741.7 1154.5,740.0 1155.0,743.3 1155.5,743.9 1156.0,745.0 1156.5,745.3 1157.0,745.8 1157.5,747.0 1158.0,745.8 1158.5,746.2 1159.0,748.0 1159.5,749.9 1160.0,750.3 1160.5,750.9 1161.0,749.8 1161.5,749.9 1162.0,751.2 1162.5,752.0 1163.0,752.3 1163.5,752.9 1164.0,751.6 1164.5,751.3 1165.0,753.9 1165.5,754.7 1166.0,754.5 1166.5,755.9 1167.0,760.5 1167.5,758.4 1168.0,758.7 1168.5,758.7 1169.0,758.3 1169.5,758.2 1170.0,760.5 1170.5,760.0 1171.0,758.6 1171.5,762.2 1172.0,761.4 1172.5,762.9 1173.0,763.2 1173.5,762.9 1174.0,765.3 1174.5,763.6 1175.0,764.3 1175.5,765.0 1176.0,763.2 1176.5,763.3 1177.0,765.3 1177.5,767.9 1178.0,767.7 1178.5,764.3 1179.0,766.7 1179.5,764.8 1180.0,764.8 1180.5,766.0 1181.0,766.9 1181.5,767.1 1182.0,767.1 1182.5,770.3 1183.0,767.6 1183.5,768.3 1184.0,769.7 1184.5,770.1 1185.0,767.7 1185.5,770.0 1186.0,771.3 1186.5,769.5 1187.0,768.9 1187.5,771.0 1188.0,770.8 1188.5,769.4 1189.0,770.6 1189.5,769.7 1190.0,769.1 1190.5,767.7 1191.0,770.0 1191.5,769.8 1192.0,769.7 1192.5,770.3 1193.0,772.1 1193.5,772.1 1194.0,773.4 1194.5,772.9 1195.0,774.2 1195.5,775.6 1196.0,774.4 1196.5,773.9 1197.0,771.8 1197.5,772.2 1198.0,775.1 1198.5,775.5 1199.0,773.0 1199.5,772.6 1200.0,772.9 1200.5,773.9 1201.0,774.6 1201.5,774.8 1202.0,775.6 1202.5,775.5 1203.0,774.9 1203.5,775.7 1204.0,772.8 1204.5,773.4"/>
<polyline fill="none" stroke="#763806" stroke-width="4.8" stroke-linejoin="round" points="102.0,1115.1 102.5,1114.5 103.0,1113.8 103.5,1111.6 104.0,1111.9 104.5,1111.8 105.0,1112.0 105.5,1111.5 106.0,1111.7 106.5,1111.3 107.0,1110.3 107.5,1111.8 108.0,1112.4 108.5,1113.5 109.0,1112.5 109.5,1111.5 110.0,1110.9 110.5,1109.6 111.0,1111.2 111.5,1110.1 112.0,1109.4 112.5,1109.9 113.0,1111.7 113.5,1111.4 114.0,1110.1 114.5,1109.7 115.0,1110.8 115.5,1110.6 116.0,1110.0 116.5,1110.3 117.0,1111.4 117.5,1113.1 118.0,1111.2 118.5,1110.8 119.0,1110.5 119.5,1109.0 120.0,1109.6 120.5,1109.8 121.0,1111.9 121.5,1111.8 122.0,1110.4 122.5,1111.7 123.0,1111.3 123.5,1109.9 124.0,1110.2 124.5,1110.3 125.0,1110.1 125.5,1110.8 126.0,1109.2 126.5,1110.2 127.0,1111.9 127.5,1112.7 128.0,1113.4 128.5,1113.9 129.0,1114.6 129.5,1112.6 130.0,1113.5 130.5,1111.6 131.0,1111.8 131.5,1110.7 132.0,1112.8 132.5,1114.1 133.0,1113.2 133.5,1114.4 134.0,1112.7 134.5,1112.4 135.0,1112.1 135.5,1110.7 136.0,1111.2 136.5,1112.6 137.0,1110.5 137.5,1111.0 138.0,1110.3 138.5,1111.6 139.0,1111.0 139.5,1110.9 140.0,1110.9 140.5,1110.6 141.0,1109.1 141.5,1111.0 142.0,1109.6 142.5,1110.5 143.0,1111.6 143.5,1111.0 144.0,1111.9 144.5,1113.5 145.0,1113.5 145.5,1113.1 146.0,1111.3 146.5,1112.4 147.0,1113.5 147.5,1114.4 148.0,1114.6 148.5,1116.1 149.0,1116.2 149.5,1116.7 150.0,1117.8 150.5,1116.9 151.0,1117.0 151.5,1119.3 152.0,1119.2 152.5,1117.2 153.0,1117.2 153.5,1117.8 154.0,1118.6 154.5,1117.9 155.0,1117.0 155.5,1116.3 156.0,1117.1 156.5,1117.3 157.0,1116.6 157.5,1116.5 158.0,1116.3 158.5,1117.3 159.0,1116.6 159.5,1117.3 160.0,1118.0 160.5,1118.1 161.0,1117.0 161.5,1118.4 162.0,1117.3 162.5,1117.8 163.0,1117.0 163.5,1115.8 164.0,1117.0 164.5,1117.6 165.0,1117.7 165.5,1118.0 166.0,1117.4 166.5,1117.0 167.0,1117.3 167.5,1119.4 168.0,1119.4 168.5,1118.2 169.0,1118.6 169.5,1117.8 170.0,1117.4 170.5,1118.4 171.0,1117.5 171.5,1116.0 172.0,1115.8 172.5,1116.5 173.0,1116.8 173.5,1117.8 174.0,1116.5 174.5,1117.0 175.0,1116.9 175.5,1116.3 176.0,1116.8 176.5,1116.7 177.0,1115.4 177.5,1116.5 178.0,1115.1 178.5,1115.6 179.0,1115.9 179.5,1116.6 180.0,1116.0 180.5,1116.5 181.0,1116.8 181.5,1118.2 182.0,1117.5 182.5,1118.0 183.0,1118.1 183.5,1117.4 184.0,1120.7 184.5,1119.9 185.0,1118.3 185.5,1120.1 186.0,1118.8 186.5,1119.4 187.0,1120.1 187.5,1119.1 188.0,1118.7 188.5,1118.4 189.0,1118.6 189.5,1117.4 190.0,1117.1 190.5,1118.0 191.0,1119.5 191.5,1120.0 192.0,1121.3 192.5,1121.1 193.0,1120.0 193.5,1119.9 194.0,1118.2 194.5,1118.4 195.0,1118.5 195.5,1119.8 196.0,1120.8 196.5,1120.2 197.0,1119.8 197.5,1118.7 198.0,1119.3 198.5,1119.9 199.0,1120.2 199.5,1119.1 200.0,1120.9 200.5,1121.0 201.0,1119.7 201.5,1118.5 202.0,1118.0 202.5,1118.1 203.0,1117.9 203.5,1118.2 204.0,1118.5 204.5,1119.2 205.0,1119.3 205.5,1118.3 206.0,1118.2 206.5,1117.4 207.0,1116.9 207.5,1118.9 208.0,1117.7 208.5,1119.3 209.0,1118.0 209.5,1117.9 210.0,1118.6 210.5,1117.9 211.0,1117.9 211.5,1117.3 212.0,1116.7 212.5,1116.7 213.0,1116.3 213.5,1118.2 214.0,1117.5 214.5,1118.9 215.0,1115.7 215.5,1116.6 216.0,1117.7 216.5,1117.5 217.0,1118.8 217.5,1119.1 218.0,1118.6 218.5,1119.1 219.0,1121.6 219.5,1120.6 220.0,1120.3 220.5,1119.6 221.0,1119.8 221.5,1118.7 222.0,1119.2 222.5,1121.9 223.0,1122.0 223.5,1121.7 224.0,1121.9 224.5,1122.7 225.0,1121.9 225.5,1122.7 226.0,1122.1 226.5,1120.9 227.0,1121.5 227.5,1118.1 228.0,1117.9 228.5,1118.4 229.0,1117.5 229.5,1117.7 230.0,1117.3 230.5,1117.0 231.0,1119.8 231.5,1119.3 232.0,1118.4 232.5,1119.2 233.0,1118.1 233.5,1118.6 234.0,1118.2 234.5,1119.1 235.0,1116.8 235.5,1117.5 236.0,1117.2 236.5,1115.8 237.0,1117.0 237.5,1115.8 238.0,1117.4 238.5,1117.1 239.0,1117.2 239.5,1116.6 240.0,1117.1 240.5,1115.0 241.0,1115.7 241.5,1115.5 242.0,1116.2 242.5,1116.4 243.0,1117.2 243.5,1116.3 244.0,1118.3 244.5,1119.7 245.0,1118.2 245.5,1117.5 246.0,1117.4 246.5,1118.2 247.0,1119.1 247.5,1116.6 248.0,1115.8 248.5,1114.8 249.0,1114.2 249.5,1113.2 250.0,1114.4 250.5,1113.5 251.0,1115.3 251.5,1115.5 252.0,1113.7 252.5,1112.7 253.0,1112.4 253.5,1114.0 254.0,1112.6 254.5,1111.3 255.0,1111.8 255.5,1112.4 256.0,1111.7 256.5,1113.3 257.0,1112.9 257.5,1112.8 258.0,1111.6 258.5,1111.7 259.0,1111.7 259.5,1109.8 260.0,1111.2 260.5,1110.2 261.0,1111.3 261.5,1110.6 262.0,1113.5 262.5,1113.6 263.0,1114.2 263.5,1114.6 264.0,1112.9 264.5,1111.3 265.0,1112.3 265.5,1114.0 266.0,1114.1 266.5,1114.8 267.0,1115.3 267.5,1113.3 268.0,1113.9 268.5,1115.6 269.0,1114.1 269.5,1111.9 270.0,1112.3 270.5,1112.3 271.0,1112.9 271.5,1112.0 272.0,1112.4 272.5,1110.4 273.0,1112.2 273.5,1113.8 274.0,1114.3 274.5,1112.0 275.0,1112.6 275.5,1109.9 276.0,1111.6 276.5,1112.1 277.0,1111.6 277.5,1112.5 278.0,1112.8 278.5,1113.6 279.0,1113.3 279.5,1113.2 280.0,1111.1 280.5,1110.7 281.0,1111.1 281.5,1111.9 282.0,1112.0 282.5,1113.3 283.0,1111.8 283.5,1111.6 284.0,1111.9 284.5,1111.6 285.0,1112.1 285.5,1111.3 286.0,1112.7 286.5,1111.9 287.0,1112.7 287.5,1112.1 288.0,1113.1 288.5,1111.0 289.0,1111.6 289.5,1111.0 290.0,1111.3 290.5,1112.3 291.0,1110.6 291.5,1109.5 292.0,1109.3 292.5,1110.2 293.0,1108.7 293.5,1109.7 294.0,1108.9 294.5,1108.5 295.0,1109.0 295.5,1109.8 296.0,1109.3 296.5,1109.0 297.0,1109.2 297.5,1109.0 298.0,1106.7 298.5,1107.5 299.0,1108.2 299.5,1109.5 300.0,1110.9 300.5,1110.3 301.0,1109.4 301.5,1108.0 302.0,1108.1 302.5,1108.8 303.0,1109.4 303.5,1107.8 304.0,1107.9 304.5,1108.4 305.0,1109.5 305.5,1108.5 306.0,1107.2 306.5,1106.3 307.0,1106.0 307.5,1105.5 308.0,1106.4 308.5,1107.0 309.0,1106.9 309.5,1107.2 310.0,1105.7 310.5,1105.7 311.0,1104.9 311.5,1104.8 312.0,1105.7 312.5,1105.1 313.0,1103.1 313.5,1103.5 314.0,1103.3 314.5,1102.6 315.0,1102.9 315.5,1104.7 316.0,1106.3 316.5,1105.2 317.0,1106.1 317.5,1106.8 318.0,1105.1 318.5,1105.3 319.0,1105.4 319.5,1105.7 320.0,1104.3 320.5,1104.7 321.0,1106.1 321.5,1107.0 322.0,1107.8 322.5,1106.1 323.0,1107.2 323.5,1106.5 324.0,1104.2 324.5,1104.8 325.0,1104.0 325.5,1104.2 326.0,1103.6 326.5,1104.4 327.0,1103.8 327.5,1102.9 328.0,1103.5 328.5,1103.0 329.0,1102.1 329.5,1103.1 330.0,1102.0 330.5,1101.1 331.0,1100.7 331.5,1099.6 332.0,1099.7 332.5,1101.9 333.0,1100.4 333.5,1100.4 334.0,1099.3 334.5,1099.1 335.0,1100.8 335.5,1101.1 336.0,1099.8 336.5,1099.6 337.0,1098.7 337.5,1098.2 338.0,1097.8 338.5,1097.5 339.0,1098.4 339.5,1099.0 340.0,1099.1 340.5,1098.5 341.0,1097.0 341.5,1097.2 342.0,1096.5 342.5,1097.6 343.0,1097.8 343.5,1097.9 344.0,1096.8 344.5,1094.8 345.0,1096.2 345.5,1097.0 346.0,1094.8 346.5,1095.0 347.0,1095.9 347.5,1094.1 348.0,1095.7 348.5,1094.3 349.0,1092.8 349.5,1094.1 350.0,1093.5 350.5,1092.1 351.0,1092.6 351.5,1090.0 352.0,1091.9 352.5,1090.1 353.0,1090.0 353.5,1089.0 354.0,1088.9 354.5,1089.0 355.0,1087.2 355.5,1087.5 356.0,1086.4 356.5,1085.3 357.0,1084.9 357.5,1083.8 358.0,1083.2 358.5,1084.3 359.0,1083.7 359.5,1084.4 360.0,1083.9 360.5,1082.2 361.0,1080.4 361.5,1080.4 362.0,1081.1 362.5,1080.9 363.0,1079.6 363.5,1080.3 364.0,1077.8 364.5,1076.6 365.0,1077.1 365.5,1079.1 366.0,1078.5 366.5,1077.2 367.0,1078.4 367.5,1079.7 368.0,1081.1 368.5,1081.1 369.0,1081.3 369.5,1082.5 370.0,1083.6 370.5,1085.3 371.0,1086.9 371.5,1085.4 372.0,1085.0 372.5,1085.5 373.0,1085.8 373.5,1086.8 374.0,1087.5 374.5,1087.9 375.0,1089.2 375.5,1088.7 376.0,1087.7 376.5,1086.9 377.0,1087.1 377.5,1087.2 378.0,1086.6 378.5,1088.6 379.0,1089.2 379.5,1089.0 380.0,1088.6 380.5,1087.8 381.0,1088.1 381.5,1090.8 382.0,1088.6 382.5,1089.8 383.0,1091.0 383.5,1091.1 384.0,1090.9 384.5,1091.8 385.0,1090.5 385.5,1091.4 386.0,1092.6 386.5,1091.0 387.0,1090.4 387.5,1090.9 388.0,1091.8 388.5,1092.6 389.0,1092.3 389.5,1090.9 390.0,1089.7 390.5,1090.2 391.0,1090.4 391.5,1089.1 392.0,1089.3 392.5,1089.5 393.0,1090.1 393.5,1088.4 394.0,1088.8 394.5,1087.2 395.0,1086.9 395.5,1086.8 396.0,1088.0 396.5,1089.9 397.0,1087.9 397.5,1086.8 398.0,1086.5 398.5,1083.8 399.0,1084.1 399.5,1082.2 400.0,1083.4 400.5,1083.6 401.0,1082.5 401.5,1080.5 402.0,1081.4 402.5,1080.2 403.0,1079.0 403.5,1078.3 404.0,1075.4 404.5,1075.3 405.0,1075.2 405.5,1073.9 406.0,1072.6 406.5,1070.3 407.0,1070.1 407.5,1069.1 408.0,1068.0 408.5,1066.5 409.0,1066.5 409.5,1066.4 410.0,1065.1 410.5,1064.3 411.0,1063.7 411.5,1063.0 412.0,1060.8 412.5,1058.5 413.0,1056.4 413.5,1054.8 414.0,1053.4 414.5,1052.0 415.0,1048.8 415.5,1046.5 416.0,1043.0 416.5,1042.0 417.0,1038.6 417.5,1036.1 418.0,1032.5 418.5,1029.7 419.0,1026.4 419.5,1025.5 420.0,1022.2 420.5,1018.4 421.0,1014.1 421.5,1010.4 422.0,1007.7 422.5,1005.2 423.0,998.8 423.5,993.7 424.0,989.3 424.5,984.1 425.0,978.0 425.5,974.0 426.0,970.1 426.5,963.5 427.0,959.4 427.5,955.5 428.0,950.9 428.5,944.7 429.0,941.3 429.5,935.2 430.0,927.9 430.5,922.3 431.0,913.6 431.5,906.4 432.0,898.9 432.5,893.2 433.0,888.6 433.5,885.7 434.0,882.6 434.5,879.8 435.0,877.5 435.5,876.4 436.0,875.3 436.5,876.2 437.0,877.8 437.5,880.1 438.0,882.8 438.5,886.4 439.0,888.8 439.5,891.9 440.0,895.7 440.5,900.6 441.0,904.8 441.5,910.7 442.0,915.3 442.5,919.2 443.0,925.1 443.5,932.1 444.0,939.4 444.5,946.5 445.0,954.3 445.5,960.7 446.0,967.0 446.5,970.8 447.0,977.2 447.5,982.8 448.0,986.2 448.5,988.3 449.0,991.5 449.5,997.4 450.0,999.7 450.5,1002.2 451.0,1004.6 451.5,1008.4 452.0,1010.3 452.5,1012.2 453.0,1013.9 453.5,1017.1 454.0,1020.9 454.5,1022.9 455.0,1025.8 455.5,1027.5 456.0,1029.1 456.5,1030.6 457.0,1031.8 457.5,1033.7 458.0,1034.6 458.5,1034.6 459.0,1035.6 459.5,1036.4 460.0,1037.7 460.5,1038.4 461.0,1039.4 461.5,1038.6 462.0,1040.2 462.5,1042.3 463.0,1041.4 463.5,1044.1 464.0,1044.8 464.5,1045.3 465.0,1044.7 465.5,1047.5 466.0,1047.7 466.5,1048.7 467.0,1050.6 467.5,1050.5 468.0,1050.9 468.5,1051.1 469.0,1052.3 469.5,1053.5 470.0,1053.9 470.5,1054.0 471.0,1053.3 471.5,1053.3 472.0,1052.4 472.5,1054.2 473.0,1053.3 473.5,1050.7 474.0,1049.9 474.5,1051.8 475.0,1049.8 475.5,1049.4 476.0,1049.8 476.5,1048.5 477.0,1049.6 477.5,1050.6 478.0,1048.7 478.5,1049.4 479.0,1047.8 479.5,1046.8 480.0,1047.2 480.5,1047.2 481.0,1046.2 481.5,1046.8 482.0,1044.7 482.5,1043.9 483.0,1042.9 483.5,1043.6 484.0,1043.5 484.5,1042.8 485.0,1040.1 485.5,1039.4 486.0,1038.5 486.5,1035.3 487.0,1033.5 487.5,1033.0 488.0,1031.8 488.5,1029.9 489.0,1028.3 489.5,1026.4 490.0,1024.5 490.5,1022.5 491.0,1020.1 491.5,1018.8 492.0,1017.4 492.5,1018.4 493.0,1016.4 493.5,1014.4 494.0,1012.4 494.5,1010.6 495.0,1008.7 495.5,1007.3 496.0,1004.7 496.5,1002.8 497.0,1001.9 497.5,999.3 498.0,996.9 498.5,994.2 499.0,991.7 499.5,988.9 500.0,986.3 500.5,984.5 501.0,983.7 501.5,983.9 502.0,983.6 502.5,983.3 503.0,983.6 503.5,983.4 504.0,983.8 504.5,983.9 505.0,984.0 505.5,984.0 506.0,983.8 506.5,983.7 507.0,984.3 507.5,984.4 508.0,984.5 508.5,985.2 509.0,986.4 509.5,989.3 510.0,992.8 510.5,995.9 511.0,998.3 511.5,1000.7 512.0,1003.4 512.5,1006.2 513.0,1008.6 513.5,1009.5 514.0,1014.7 514.5,1018.9 515.0,1022.7 515.5,1027.9 516.0,1029.9 516.5,1035.5 517.0,1039.2 517.5,1043.4 518.0,1047.3 518.5,1051.9 519.0,1055.3 519.5,1058.8 520.0,1063.6 520.5,1067.3 521.0,1069.5 521.5,1074.4 522.0,1078.0 522.5,1081.1 523.0,1082.5 523.5,1084.4 524.0,1085.7 524.5,1086.7 525.0,1089.0 525.5,1091.0 526.0,1092.0 526.5,1095.5 527.0,1094.7 527.5,1095.7 528.0,1097.0 528.5,1100.0 529.0,1100.7 529.5,1101.5 530.0,1102.0 530.5,1102.8 531.0,1103.2 531.5,1105.9 532.0,1107.2 532.5,1108.6 533.0,1108.1 533.5,1111.0 534.0,1109.6 534.5,1108.1 535.0,1109.2 535.5,1110.2 536.0,1111.5 536.5,1110.8 537.0,1112.1 537.5,1114.0 538.0,1112.8 538.5,1112.6 539.0,1111.9 539.5,1113.5 540.0,1115.2 540.5,1116.2 541.0,1117.1 541.5,1118.4 542.0,1118.1 542.5,1119.1 543.0,1118.2 543.5,1118.1 544.0,1119.4 544.5,1119.3 545.0,1120.9 545.5,1122.6 546.0,1122.9 546.5,1122.3 547.0,1122.2 547.5,1124.3 548.0,1123.6 548.5,1124.2 549.0,1124.3 549.5,1124.8 550.0,1126.1 550.5,1125.4 551.0,1124.4 551.5,1126.5 552.0,1126.5 552.5,1127.0 553.0,1126.7 553.5,1127.3 554.0,1128.1 554.5,1128.7 555.0,1127.6 555.5,1127.0 556.0,1127.5 556.5,1127.7 557.0,1128.3 557.5,1127.5 558.0,1125.8 558.5,1127.6 559.0,1129.0 559.5,1129.8 560.0,1131.3 560.5,1131.5 561.0,1130.8 561.5,1131.9 562.0,1131.8 562.5,1133.2 563.0,1133.3 563.5,1133.8 564.0,1134.2 564.5,1134.5 565.0,1133.5 565.5,1134.7 566.0,1133.5 566.5,1135.6 567.0,1137.4 567.5,1139.3 568.0,1139.0 568.5,1137.9 569.0,1136.7 569.5,1139.3 570.0,1137.6 570.5,1138.8 571.0,1136.5 571.5,1137.3 572.0,1138.2 572.5,1138.3 573.0,1137.9 573.5,1136.9 574.0,1136.3 574.5,1137.6 575.0,1137.6 575.5,1137.0 576.0,1137.0 576.5,1136.0 577.0,1137.2 577.5,1138.0 578.0,1136.6 578.5,1136.8 579.0,1137.8 579.5,1136.8 580.0,1138.9 580.5,1139.6 581.0,1138.5 581.5,1139.2 582.0,1140.3 582.5,1138.5 583.0,1139.5 583.5,1139.5 584.0,1139.6 584.5,1140.7 585.0,1140.4 585.5,1139.7 586.0,1139.5 586.5,1140.8 587.0,1142.3 587.5,1142.6 588.0,1142.7 588.5,1143.0 589.0,1144.4 589.5,1144.5 590.0,1143.4 590.5,1143.2 591.0,1144.5 591.5,1143.4 592.0,1143.0 592.5,1143.1 593.0,1142.1 593.5,1143.3 594.0,1141.0 594.5,1143.0 595.0,1142.2 595.5,1141.0 596.0,1141.7 596.5,1140.1 597.0,1141.2 597.5,1141.9 598.0,1140.9 598.5,1140.5 599.0,1141.4 599.5,1140.3 600.0,1140.3 600.5,1140.6 601.0,1141.7 601.5,1140.4 602.0,1140.2 602.5,1141.1 603.0,1138.3 603.5,1138.9 604.0,1137.8 604.5,1137.3 605.0,1140.5 605.5,1140.6 606.0,1141.8 606.5,1140.9 607.0,1141.2 607.5,1140.5 608.0,1140.0 608.5,1140.2 609.0,1140.6 609.5,1142.0 610.0,1141.2 610.5,1141.3 611.0,1140.8 611.5,1140.9 612.0,1139.7 612.5,1141.3 613.0,1140.6 613.5,1140.9 614.0,1140.8 614.5,1142.0 615.0,1142.2 615.5,1141.9 616.0,1142.1 616.5,1142.5 617.0,1143.2 617.5,1143.5 618.0,1144.5 618.5,1145.5 619.0,1145.3 619.5,1143.6 620.0,1145.7 620.5,1147.3 621.0,1146.0 621.5,1145.4 622.0,1143.8 622.5,1145.6 623.0,1145.1 623.5,1147.5 624.0,1144.9 624.5,1145.9 625.0,1147.1 625.5,1146.8 626.0,1146.3 626.5,1147.1 627.0,1146.8 627.5,1147.0 628.0,1147.4 628.5,1147.2 629.0,1147.5 629.5,1148.6 630.0,1148.2 630.5,1148.6 631.0,1148.1 631.5,1149.5 632.0,1148.3 632.5,1149.9 633.0,1147.2 633.5,1147.8 634.0,1147.6 634.5,1149.9 635.0,1150.5 635.5,1149.4 636.0,1149.5 636.5,1151.3 637.0,1150.9 637.5,1151.3 638.0,1149.6 638.5,1148.7 639.0,1150.1 639.5,1152.3 640.0,1150.7 640.5,1150.9 641.0,1149.6 641.5,1150.8 642.0,1149.7 642.5,1149.1 643.0,1147.4 643.5,1147.8 644.0,1148.4 644.5,1149.6 645.0,1147.9 645.5,1148.9 646.0,1148.1 646.5,1147.7 647.0,1146.9 647.5,1145.8 648.0,1145.7 648.5,1148.3 649.0,1147.1 649.5,1147.2 650.0,1148.8 650.5,1146.8 651.0,1148.2 651.5,1148.2 652.0,1148.9 652.5,1150.0 653.0,1149.8 653.5,1149.7 654.0,1150.6 654.5,1151.1 655.0,1150.2 655.5,1150.3 656.0,1149.4 656.5,1151.3 657.0,1150.1 657.5,1150.7 658.0,1152.5 658.5,1152.5 659.0,1151.4 659.5,1150.5 660.0,1150.1 660.5,1151.2 661.0,1151.1 661.5,1150.7 662.0,1152.8 662.5,1150.6 663.0,1149.7 663.5,1149.2 664.0,1149.4 664.5,1149.4 665.0,1148.7 665.5,1149.2 666.0,1149.0 666.5,1148.1 667.0,1145.5 667.5,1147.0 668.0,1146.0 668.5,1145.7 669.0,1145.8 669.5,1144.9 670.0,1144.7 670.5,1145.4 671.0,1145.3 671.5,1145.9 672.0,1145.1 672.5,1145.3 673.0,1144.6 673.5,1145.1 674.0,1145.8 674.5,1145.7 675.0,1144.6 675.5,1145.1 676.0,1145.6 676.5,1146.8 677.0,1146.2 677.5,1145.5 678.0,1144.3 678.5,1146.5 679.0,1144.8 679.5,1143.7 680.0,1143.9 680.5,1142.4 681.0,1144.1 681.5,1144.1 682.0,1144.2 682.5,1142.9 683.0,1142.6 683.5,1143.6 684.0,1144.1 684.5,1146.0 685.0,1145.4 685.5,1142.3 686.0,1142.6 686.5,1142.3 687.0,1143.4 687.5,1142.9 688.0,1143.2 688.5,1142.5 689.0,1143.1 689.5,1144.1 690.0,1142.7 690.5,1140.8 691.0,1140.7 691.5,1143.0 692.0,1142.9 692.5,1142.4 693.0,1141.5 693.5,1142.9 694.0,1142.9 694.5,1142.5 695.0,1142.0 695.5,1142.1 696.0,1142.0 696.5,1142.8 697.0,1143.9 697.5,1141.6 698.0,1141.1 698.5,1142.1 699.0,1142.8 699.5,1141.9 700.0,1142.3 700.5,1142.6 701.0,1142.4 701.5,1141.8 702.0,1141.2 702.5,1141.3 703.0,1140.5 703.5,1139.4 704.0,1138.0 704.5,1135.9 705.0,1134.7 705.5,1134.9 706.0,1134.1 706.5,1134.0 707.0,1133.2 707.5,1132.3 708.0,1132.0 708.5,1129.8 709.0,1129.7 709.5,1129.1 710.0,1130.0 710.5,1128.9 711.0,1129.0 711.5,1128.3 712.0,1128.6 712.5,1128.8 713.0,1127.8 713.5,1127.4 714.0,1127.0 714.5,1127.1 715.0,1125.9 715.5,1125.3 716.0,1124.4 716.5,1123.2 717.0,1123.4 717.5,1123.5 718.0,1122.3 718.5,1123.7 719.0,1122.2 719.5,1122.9 720.0,1122.9 720.5,1121.2 721.0,1122.1 721.5,1121.4 722.0,1122.6 722.5,1124.2 723.0,1126.4 723.5,1126.9 724.0,1125.5 724.5,1126.1 725.0,1128.5 725.5,1128.8 726.0,1130.7 726.5,1129.6 727.0,1129.4 727.5,1128.8 728.0,1129.6 728.5,1131.6 729.0,1130.9 729.5,1132.3 730.0,1132.8 730.5,1133.5 731.0,1133.0 731.5,1133.2 732.0,1135.3 732.5,1133.4 733.0,1134.3 733.5,1135.5 734.0,1135.2 734.5,1136.1 735.0,1132.5 735.5,1133.0 736.0,1132.5 736.5,1132.9 737.0,1133.3 737.5,1134.0 738.0,1133.1 738.5,1134.2 739.0,1132.5 739.5,1133.9 740.0,1133.6 740.5,1132.0 741.0,1131.3 741.5,1131.0 742.0,1131.7 742.5,1133.1 743.0,1135.1 743.5,1135.8 744.0,1134.4 744.5,1133.1 745.0,1134.5 745.5,1134.4 746.0,1135.9 746.5,1136.6 747.0,1140.3 747.5,1138.6 748.0,1140.1 748.5,1142.6 749.0,1142.2 749.5,1142.1 750.0,1144.5 750.5,1142.7 751.0,1142.3 751.5,1142.8 752.0,1144.6 752.5,1145.9 753.0,1145.9 753.5,1148.0 754.0,1147.0 754.5,1146.8 755.0,1146.5 755.5,1147.8 756.0,1147.4 756.5,1146.9 757.0,1148.6 757.5,1149.1 758.0,1149.2 758.5,1147.2 759.0,1146.5 759.5,1147.0 760.0,1147.2 760.5,1147.3 761.0,1147.7 761.5,1148.7 762.0,1147.9 762.5,1148.8 763.0,1148.8 763.5,1148.9 764.0,1149.3 764.5,1150.6 765.0,1151.0 765.5,1150.4 766.0,1151.3 766.5,1151.7 767.0,1152.4 767.5,1152.2 768.0,1153.4 768.5,1153.5 769.0,1152.2 769.5,1151.4 770.0,1150.9 770.5,1152.3 771.0,1151.9 771.5,1152.0 772.0,1152.2 772.5,1153.3 773.0,1154.6 773.5,1153.1 774.0,1154.1 774.5,1153.2 775.0,1153.2 775.5,1151.7 776.0,1149.9 776.5,1150.5 777.0,1151.4 777.5,1149.1 778.0,1149.2 778.5,1149.4 779.0,1149.8 779.5,1148.4 780.0,1148.1 780.5,1149.3 781.0,1150.7 781.5,1149.8 782.0,1150.2 782.5,1149.7 783.0,1149.7 783.5,1149.1 784.0,1149.0 784.5,1148.7 785.0,1149.2 785.5,1150.5 786.0,1150.4 786.5,1150.9 787.0,1150.1 787.5,1151.0 788.0,1148.0 788.5,1148.2 789.0,1149.4 789.5,1148.7 790.0,1150.5 790.5,1151.1 791.0,1150.4 791.5,1151.0 792.0,1149.8 792.5,1149.7 793.0,1150.1 793.5,1149.2 794.0,1151.1 794.5,1150.5 795.0,1151.7 795.5,1151.2 796.0,1151.4 796.5,1150.4 797.0,1150.4 797.5,1150.4 798.0,1151.1 798.5,1152.5 799.0,1151.6 799.5,1151.5 800.0,1152.0 800.5,1152.8 801.0,1152.4 801.5,1151.9 802.0,1151.5 802.5,1151.8 803.0,1152.1 803.5,1151.4 804.0,1151.2 804.5,1151.9 805.0,1151.4 805.5,1150.4 806.0,1150.9 806.5,1150.8 807.0,1150.5 807.5,1150.1 808.0,1148.6 808.5,1148.1 809.0,1147.7 809.5,1147.1 810.0,1144.9 810.5,1145.1 811.0,1145.4 811.5,1145.5 812.0,1144.8 812.5,1144.7 813.0,1142.9 813.5,1142.4 814.0,1140.9 814.5,1142.7 815.0,1145.5 815.5,1147.2 816.0,1145.6 816.5,1146.7 817.0,1148.0 817.5,1147.5 818.0,1146.1 818.5,1148.6 819.0,1148.5 819.5,1148.6 820.0,1150.8 820.5,1150.9 821.0,1151.4 821.5,1152.5 822.0,1151.5 822.5,1150.4 823.0,1151.4 823.5,1151.2 824.0,1151.7 824.5,1151.7 825.0,1150.5 825.5,1150.6 826.0,1150.2 826.5,1150.1 827.0,1150.0 827.5,1150.3 828.0,1150.1 828.5,1148.6 829.0,1149.4 829.5,1147.9 830.0,1150.2 830.5,1148.6 831.0,1148.3 831.5,1149.3 832.0,1148.3 832.5,1146.7 833.0,1145.7 833.5,1146.6 834.0,1147.2 834.5,1147.8 835.0,1147.7 835.5,1146.9 836.0,1147.5 836.5,1148.8 837.0,1147.6 837.5,1151.1 838.0,1149.4 838.5,1150.3 839.0,1151.6 839.5,1151.6 840.0,1151.3 840.5,1151.7 841.0,1152.8 841.5,1149.9 842.0,1151.5 842.5,1151.7 843.0,1151.7 843.5,1152.6 844.0,1153.2 844.5,1153.8 845.0,1153.2 845.5,1154.5 846.0,1152.3 846.5,1152.2 847.0,1151.9 847.5,1152.9 848.0,1152.9 848.5,1153.8 849.0,1153.1 849.5,1154.6 850.0,1154.9 850.5,1153.9 851.0,1152.4 851.5,1152.2 852.0,1151.9 852.5,1154.3 853.0,1155.2 853.5,1153.9 854.0,1156.2 854.5,1155.5 855.0,1153.5 855.5,1155.6 856.0,1156.9 856.5,1156.4 857.0,1155.4 857.5,1156.7 858.0,1155.8 858.5,1155.7 859.0,1156.0 859.5,1155.9 860.0,1155.0 860.5,1154.0 861.0,1154.9 861.5,1152.5 862.0,1153.5 862.5,1153.8 863.0,1154.1 863.5,1153.3 864.0,1153.4 864.5,1153.9 865.0,1152.4 865.5,1152.7 866.0,1153.1 866.5,1151.9 867.0,1151.6 867.5,1153.8 868.0,1154.5 868.5,1153.3 869.0,1154.2 869.5,1154.4 870.0,1155.6 870.5,1156.1 871.0,1153.2 871.5,1153.8 872.0,1155.7 872.5,1157.0 873.0,1155.8 873.5,1154.6 874.0,1155.5 874.5,1155.2 875.0,1155.6 875.5,1154.9 876.0,1156.3 876.5,1156.8 877.0,1157.0 877.5,1155.7 878.0,1154.5 878.5,1154.2 879.0,1155.7 879.5,1154.3 880.0,1155.8 880.5,1157.4 881.0,1156.0 881.5,1155.6 882.0,1156.3 882.5,1156.5 883.0,1155.1 883.5,1154.7 884.0,1154.6 884.5,1154.0 885.0,1154.4 885.5,1154.2 886.0,1154.8 886.5,1152.3 887.0,1153.6 887.5,1153.8 888.0,1152.9 888.5,1152.9 889.0,1153.4 889.5,1152.9 890.0,1152.2 890.5,1152.3 891.0,1151.5 891.5,1150.5 892.0,1150.4 892.5,1150.5 893.0,1151.4 893.5,1152.4 894.0,1152.3 894.5,1153.4 895.0,1152.5 895.5,1151.5 896.0,1150.8 896.5,1150.3 897.0,1150.4 897.5,1151.9 898.0,1149.9 898.5,1150.6 899.0,1150.3 899.5,1150.8 900.0,1149.7 900.5,1150.1 901.0,1149.1 901.5,1149.5 902.0,1147.2 902.5,1148.2 903.0,1148.8 903.5,1146.9 904.0,1148.1 904.5,1146.8 905.0,1148.0 905.5,1147.6 906.0,1147.9 906.5,1147.7 907.0,1146.0 907.5,1147.5 908.0,1147.8 908.5,1145.8 909.0,1146.1 909.5,1146.0 910.0,1144.7 910.5,1143.6 911.0,1145.0 911.5,1144.0 912.0,1144.6 912.5,1145.7 913.0,1144.9 913.5,1143.3 914.0,1144.1 914.5,1142.5 915.0,1142.1 915.5,1145.5 916.0,1143.9 916.5,1144.3 917.0,1143.3 917.5,1143.9 918.0,1144.5 918.5,1142.5 919.0,1143.4 919.5,1145.3 920.0,1146.5 920.5,1146.8 921.0,1146.0 921.5,1146.9 922.0,1146.7 922.5,1146.4 923.0,1147.1 923.5,1149.5 924.0,1147.9 924.5,1148.9 925.0,1148.7 925.5,1147.0 926.0,1146.6 926.5,1147.1 927.0,1146.9 927.5,1147.4 928.0,1146.4 928.5,1145.8 929.0,1147.2 929.5,1146.8 930.0,1145.8 930.5,1145.9 931.0,1147.4 931.5,1145.9 932.0,1144.2 932.5,1145.4 933.0,1146.8 933.5,1146.8 934.0,1144.4 934.5,1142.5 935.0,1144.4 935.5,1144.1 936.0,1144.5 936.5,1144.1 937.0,1145.6 937.5,1145.0 938.0,1144.5 938.5,1144.7 939.0,1143.8 939.5,1144.7 940.0,1145.1 940.5,1143.8 941.0,1144.2 941.5,1144.6 942.0,1144.9 942.5,1147.1 943.0,1149.2 943.5,1149.9 944.0,1149.0 944.5,1148.6 945.0,1151.0 945.5,1151.6 946.0,1152.4 946.5,1152.0 947.0,1151.4 947.5,1155.2 948.0,1154.8 948.5,1155.1 949.0,1154.5 949.5,1156.7 950.0,1156.2 950.5,1156.1 951.0,1156.3 951.5,1156.4 952.0,1157.7 952.5,1155.4 953.0,1156.5 953.5,1156.0 954.0,1155.9 954.5,1155.7 955.0,1156.6 955.5,1155.6 956.0,1155.8 956.5,1157.0 957.0,1156.6 957.5,1156.5 958.0,1157.3 958.5,1157.5 959.0,1157.2 959.5,1157.4 960.0,1156.7 960.5,1157.8 961.0,1156.6 961.5,1155.5 962.0,1156.7 962.5,1155.7 963.0,1155.4 963.5,1155.9 964.0,1156.9 964.5,1156.2 965.0,1155.9 965.5,1155.7 966.0,1156.2 966.5,1155.7 967.0,1156.0 967.5,1157.2 968.0,1156.3 968.5,1155.8 969.0,1155.0 969.5,1154.8 970.0,1154.2 970.5,1154.1 971.0,1154.5 971.5,1155.5 972.0,1156.2 972.5,1155.6 973.0,1156.0 973.5,1154.7 974.0,1157.0 974.5,1158.4 975.0,1156.7 975.5,1156.2 976.0,1155.5 976.5,1155.5 977.0,1154.1 977.5,1152.5 978.0,1153.5 978.5,1152.2 979.0,1152.5 979.5,1151.2 980.0,1150.3 980.5,1151.2 981.0,1151.9 981.5,1150.4 982.0,1149.2 982.5,1149.0 983.0,1148.1 983.5,1146.4 984.0,1147.1 984.5,1145.5 985.0,1147.1 985.5,1147.2 986.0,1147.9 986.5,1146.7 987.0,1146.8 987.5,1148.0 988.0,1149.2 988.5,1149.2 989.0,1148.7 989.5,1146.8 990.0,1147.2 990.5,1146.8 991.0,1145.9 991.5,1146.6 992.0,1144.9 992.5,1146.0 993.0,1144.2 993.5,1143.1 994.0,1142.8 994.5,1141.4 995.0,1141.4 995.5,1141.7 996.0,1140.3 996.5,1140.3 997.0,1139.7 997.5,1140.3 998.0,1142.1 998.5,1141.5 999.0,1141.5 999.5,1141.9 1000.0,1141.0 1000.5,1141.8 1001.0,1141.6 1001.5,1141.4 1002.0,1140.5 1002.5,1141.0 1003.0,1142.8 1003.5,1144.0 1004.0,1143.2 1004.5,1143.2 1005.0,1142.8 1005.5,1142.1 1006.0,1141.1 1006.5,1143.8 1007.0,1142.8 1007.5,1143.4 1008.0,1144.9 1008.5,1144.0 1009.0,1143.8 1009.5,1144.2 1010.0,1143.9 1010.5,1144.5 1011.0,1144.4 1011.5,1145.9 1012.0,1146.2 1012.5,1145.1 1013.0,1144.7 1013.5,1145.3 1014.0,1145.9 1014.5,1146.4 1015.0,1148.4 1015.5,1148.1 1016.0,1148.5 1016.5,1149.4 1017.0,1148.1 1017.5,1149.9 1018.0,1151.0 1018.5,1152.5 1019.0,1151.2 1019.5,1151.1 1020.0,1151.7 1020.5,1151.6 1021.0,1150.6 1021.5,1152.3 1022.0,1152.0 1022.5,1152.5 1023.0,1151.4 1023.5,1152.7 1024.0,1152.1 1024.5,1151.4 1025.0,1152.2 1025.5,1152.9 1026.0,1151.3 1026.5,1152.1 1027.0,1153.0 1027.5,1152.1 1028.0,1150.1 1028.5,1150.8 1029.0,1151.5 1029.5,1150.0 1030.0,1151.7 1030.5,1150.9 1031.0,1150.6 1031.5,1151.6 1032.0,1151.5 1032.5,1152.5 1033.0,1152.0 1033.5,1152.3 1034.0,1152.4 1034.5,1152.8 1035.0,1153.5 1035.5,1154.0 1036.0,1153.8 1036.5,1155.0 1037.0,1154.9 1037.5,1156.1 1038.0,1156.4 1038.5,1156.1 1039.0,1155.6 1039.5,1156.1 1040.0,1157.8 1040.5,1157.6 1041.0,1158.4 1041.5,1158.0 1042.0,1157.7 1042.5,1157.3 1043.0,1156.1 1043.5,1157.6 1044.0,1158.2 1044.5,1158.5 1045.0,1159.4 1045.5,1158.3 1046.0,1160.2 1046.5,1158.3 1047.0,1158.8 1047.5,1157.8 1048.0,1158.1 1048.5,1159.4 1049.0,1157.7 1049.5,1158.3 1050.0,1158.5 1050.5,1158.6 1051.0,1158.7 1051.5,1159.2 1052.0,1159.2 1052.5,1159.1 1053.0,1159.5 1053.5,1159.5 1054.0,1158.8 1054.5,1157.5 1055.0,1158.6 1055.5,1158.2 1056.0,1159.8 1056.5,1158.6 1057.0,1157.5 1057.5,1159.0 1058.0,1158.1 1058.5,1157.1 1059.0,1159.0 1059.5,1157.7 1060.0,1159.6 1060.5,1158.6 1061.0,1159.4 1061.5,1159.7 1062.0,1158.1 1062.5,1158.9 1063.0,1159.0 1063.5,1159.5 1064.0,1160.1 1064.5,1161.3 1065.0,1160.1 1065.5,1159.6 1066.0,1161.2 1066.5,1160.5 1067.0,1160.1 1067.5,1157.5 1068.0,1156.1 1068.5,1156.0 1069.0,1156.0 1069.5,1156.3 1070.0,1158.3 1070.5,1155.5 1071.0,1154.7 1071.5,1155.0 1072.0,1154.7 1072.5,1155.2 1073.0,1154.0 1073.5,1152.8 1074.0,1154.8 1074.5,1154.2 1075.0,1152.3 1075.5,1152.1 1076.0,1152.1 1076.5,1150.8 1077.0,1152.1 1077.5,1152.1 1078.0,1151.5 1078.5,1150.9 1079.0,1152.5 1079.5,1151.7 1080.0,1150.5 1080.5,1148.7 1081.0,1148.5 1081.5,1149.8 1082.0,1151.0 1082.5,1149.1 1083.0,1147.1 1083.5,1147.8 1084.0,1147.9 1084.5,1148.6 1085.0,1147.3 1085.5,1147.2 1086.0,1145.2 1086.5,1144.6 1087.0,1144.7 1087.5,1144.7 1088.0,1145.3 1088.5,1145.9 1089.0,1143.6 1089.5,1144.9 1090.0,1143.1 1090.5,1142.1 1091.0,1142.8 1091.5,1139.6 1092.0,1138.6 1092.5,1138.4 1093.0,1138.9 1093.5,1139.9 1094.0,1140.3 1094.5,1138.6 1095.0,1139.2 1095.5,1138.4 1096.0,1139.7 1096.5,1138.8 1097.0,1139.6 1097.5,1138.2 1098.0,1139.1 1098.5,1137.8 1099.0,1138.6 1099.5,1137.6 1100.0,1138.6 1100.5,1138.7 1101.0,1138.7 1101.5,1140.0 1102.0,1141.3 1102.5,1141.6 1103.0,1142.0 1103.5,1142.7 1104.0,1143.7 1104.5,1144.2 1105.0,1143.9 1105.5,1145.4 1106.0,1144.0 1106.5,1144.7 1107.0,1143.4 1107.5,1146.1 1108.0,1145.3 1108.5,1145.4 1109.0,1146.7 1109.5,1146.1 1110.0,1145.4 1110.5,1144.3 1111.0,1145.3 1111.5,1148.0 1112.0,1147.8 1112.5,1149.2 1113.0,1149.2 1113.5,1148.2 1114.0,1146.8 1114.5,1147.3 1115.0,1148.3 1115.5,1148.1 1116.0,1148.4 1116.5,1149.0 1117.0,1148.5 1117.5,1147.4 1118.0,1147.9 1118.5,1149.1 1119.0,1148.6 1119.5,1148.2 1120.0,1148.2 1120.5,1149.1 1121.0,1149.7 1121.5,1150.2 1122.0,1149.4 1122.5,1150.3 1123.0,1150.3 1123.5,1150.0 1124.0,1149.1 1124.5,1149.3 1125.0,1149.9 1125.5,1150.8 1126.0,1151.4 1126.5,1151.2 1127.0,1151.2 1127.5,1149.8 1128.0,1150.7 1128.5,1150.9 1129.0,1150.7 1129.5,1149.4 1130.0,1149.0 1130.5,1148.2 1131.0,1146.9 1131.5,1147.0 1132.0,1145.9 1132.5,1145.0 1133.0,1146.6 1133.5,1147.3 1134.0,1147.9 1134.5,1147.1 1135.0,1147.0 1135.5,1147.5 1136.0,1146.9 1136.5,1145.2 1137.0,1148.2 1137.5,1148.9 1138.0,1149.3 1138.5,1148.6 1139.0,1147.5 1139.5,1147.9 1140.0,1148.4 1140.5,1147.3 1141.0,1147.8 1141.5,1149.1 1142.0,1150.9 1142.5,1151.1 1143.0,1150.6 1143.5,1149.7 1144.0,1152.5 1144.5,1152.3 1145.0,1152.9 1145.5,1152.7 1146.0,1151.4 1146.5,1154.0 1147.0,1154.0 1147.5,1154.5 1148.0,1153.0 1148.5,1152.9 1149.0,1154.2 1149.5,1153.2 1150.0,1152.4 1150.5,1151.7 1151.0,1151.2 1151.5,1153.0 1152.0,1153.3 1152.5,1152.0 1153.0,1154.5 1153.5,1155.8 1154.0,1156.5 1154.5,1154.5 1155.0,1155.5 1155.5,1157.4 1156.0,1156.5 1156.5,1156.6 1157.0,1157.5 1157.5,1156.7 1158.0,1158.6 1158.5,1160.6 1159.0,1161.6 1159.5,1163.2 1160.0,1163.0 1160.5,1163.1 1161.0,1163.2 1161.5,1163.1 1162.0,1162.9 1162.5,1163.3 1163.0,1164.3 1163.5,1164.6 1164.0,1165.4 1164.5,1166.0 1165.0,1166.8 1165.5,1166.3 1166.0,1164.6 1166.5,1164.8 1167.0,1167.5 1167.5,1167.8 1168.0,1166.9 1168.5,1166.6 1169.0,1166.5 1169.5,1166.0 1170.0,1166.4 1170.5,1166.9 1171.0,1167.7 1171.5,1166.6 1172.0,1166.1 1172.5,1165.8 1173.0,1166.1 1173.5,1167.2 1174.0,1166.1 1174.5,1168.3 1175.0,1168.0 1175.5,1168.5 1176.0,1166.9 1176.5,1166.7 1177.0,1166.6 1177.5,1167.1 1178.0,1165.6 1178.5,1167.1 1179.0,1166.0 1179.5,1167.4 1180.0,1168.7 1180.5,1168.5 1181.0,1168.4 1181.5,1168.4 1182.0,1168.5 1182.5,1169.1 1183.0,1170.1 1183.5,1170.5 1184.0,1171.6 1184.5,1171.0 1185.0,1170.4 1185.5,1170.2 1186.0,1169.6 1186.5,1170.2 1187.0,1170.4 1187.5,1172.7 1188.0,1172.9 1188.5,1174.1 1189.0,1171.5 1189.5,1172.3 1190.0,1173.4 1190.5,1173.3 1191.0,1172.7 1191.5,1172.9 1192.0,1173.1 1192.5,1173.3 1193.0,1173.6 1193.5,1174.4 1194.0,1174.3 1194.5,1174.3 1195.0,1174.3 1195.5,1174.7 1196.0,1174.0 1196.5,1175.0 1197.0,1174.8 1197.5,1175.9 1198.0,1175.3 1198.5,1175.6 1199.0,1175.8 1199.5,1175.3 1200.0,1177.0 1200.5,1177.4 1201.0,1177.5 1201.5,1178.6 1202.0,1177.9 1202.5,1178.0 1203.0,1179.1 1203.5,1180.9 1204.0,1179.8 1204.5,1180.7"/>
<rect x="100" y="27" width="1107" height="3" fill="#000"/>
<rect x="100" y="27" width="3" height="1182" fill="#000"/>
<rect x="1204" y="27" width="3.3" height="1187" fill="#000"/>
<rect x="100" y="409" width="1107" height="3" fill="#000"/>
<rect x="100" y="796" width="1107" height="3" fill="#000"/>
<rect x="100" y="1203" width="1107" height="3" fill="#000"/>
<rect x="100" y="1203" width="2.1" height="345" fill="#000"/>
<rect x="1205.2" y="1203" width="2.5" height="345" fill="#000"/>
<rect x="100" y="1545.8" width="1107.7" height="2.6" fill="#000"/>
<rect x="207.4" y="403.0" width="3" height="7" fill="#000"/>
<rect x="315.8" y="397.0" width="3" height="13" fill="#000"/>
<rect x="424.2" y="403.0" width="3" height="7" fill="#000"/>
<rect x="532.6" y="397.0" width="3" height="13" fill="#000"/>
<rect x="641.0" y="403.0" width="3" height="7" fill="#000"/>
<rect x="749.4" y="397.0" width="3" height="13" fill="#000"/>
<rect x="857.8" y="403.0" width="3" height="7" fill="#000"/>
<rect x="966.2" y="397.0" width="3" height="13" fill="#000"/>
<rect x="1074.6" y="403.0" width="3" height="7" fill="#000"/>
<rect x="1183.0" y="397.0" width="3" height="13" fill="#000"/>
<rect x="207.4" y="790.0" width="3" height="7" fill="#000"/>
<rect x="315.8" y="784.0" width="3" height="13" fill="#000"/>
<rect x="424.2" y="790.0" width="3" height="7" fill="#000"/>
<rect x="532.6" y="784.0" width="3" height="13" fill="#000"/>
<rect x="641.0" y="790.0" width="3" height="7" fill="#000"/>
<rect x="749.4" y="784.0" width="3" height="13" fill="#000"/>
<rect x="857.8" y="790.0" width="3" height="7" fill="#000"/>
<rect x="966.2" y="784.0" width="3" height="13" fill="#000"/>
<rect x="1074.6" y="790.0" width="3" height="7" fill="#000"/>
<rect x="1183.0" y="784.0" width="3" height="13" fill="#000"/>
<rect x="207.4" y="1197.0" width="3" height="7" fill="#000"/>
<rect x="315.8" y="1191.0" width="3" height="13" fill="#000"/>
<rect x="424.2" y="1197.0" width="3" height="7" fill="#000"/>
<rect x="532.6" y="1191.0" width="3" height="13" fill="#000"/>
<rect x="641.0" y="1197.0" width="3" height="7" fill="#000"/>
<rect x="749.4" y="1191.0" width="3" height="13" fill="#000"/>
<rect x="857.8" y="1197.0" width="3" height="7" fill="#000"/>
<rect x="966.2" y="1191.0" width="3" height="13" fill="#000"/>
<rect x="1074.6" y="1197.0" width="3" height="7" fill="#000"/>
<rect x="1183.0" y="1191.0" width="3" height="13" fill="#000"/>
<rect x="210.5" y="1539.8" width="2" height="7" fill="#000"/>
<rect x="321.0" y="1533.8" width="2" height="13" fill="#000"/>
<rect x="431.5" y="1539.8" width="2" height="7" fill="#000"/>
<rect x="542.0" y="1533.8" width="2" height="13" fill="#000"/>
<rect x="652.5" y="1539.8" width="2" height="7" fill="#000"/>
<rect x="763.0" y="1533.8" width="2" height="13" fill="#000"/>
<rect x="873.5" y="1539.8" width="2" height="7" fill="#000"/>
<rect x="984.0" y="1533.8" width="2" height="13" fill="#000"/>
<rect x="1094.5" y="1539.8" width="2" height="7" fill="#000"/>
<rect x="102.1" y="1224.0" width="1.3" height="1.6" fill="#555"/>
<rect x="102.1" y="1253.4" width="1.3" height="1.6" fill="#555"/>
<rect x="102.1" y="1282.8" width="1.3" height="1.6" fill="#555"/>
<rect x="102.1" y="1312.2" width="1.3" height="1.6" fill="#555"/>
<rect x="102.1" y="1341.6" width="1.3" height="1.6" fill="#555"/>
<rect x="102.1" y="1371.0" width="1.3" height="1.6" fill="#555"/>
<rect x="102.1" y="1400.3" width="1.3" height="1.6" fill="#555"/>
<rect x="102.1" y="1429.7" width="1.3" height="1.6" fill="#555"/>
<rect x="102.1" y="1459.1" width="1.3" height="1.6" fill="#555"/>
<rect x="102.1" y="1488.5" width="1.3" height="1.6" fill="#555"/>
<rect x="102.1" y="1517.9" width="1.3" height="1.6" fill="#555"/>
<rect x="439.0" y="1408.3" width="5" height="139.2" fill="#EF8228"/>
<rect x="442.8" y="1223.1" width="5" height="324.4" fill="#EF8228"/>
<rect x="512.5" y="1226.5" width="5" height="321.0" fill="#EF8228"/>
<rect x="516.8" y="1454.6" width="5" height="92.9" fill="#EF8228"/>
<rect x="733.6" y="1429.2" width="5" height="118.3" fill="#EF8228"/>
<rect x="792.1" y="1513.7" width="5" height="33.8" fill="#EF8228"/>
<rect x="839.0" y="1495.6" width="5" height="51.9" fill="#EF8228"/>
<rect x="911.5" y="1513.7" width="5" height="33.8" fill="#EF8228"/>
<rect x="944.5" y="1487.2" width="5" height="60.3" fill="#EF8228"/>
<rect x="1016.9" y="1458.0" width="5" height="89.5" fill="#EF8228"/>
<rect x="1111.2" y="1487.2" width="5" height="60.3" fill="#EF8228"/>
<rect x="1120.9" y="1472.3" width="5" height="75.2" fill="#EF8228"/>
<rect x="1126.5" y="1515.0" width="5" height="32.5" fill="#EF8228"/>
<rect x="1156.2" y="1500.0" width="5" height="47.5" fill="#EF8228"/>
<rect x="1163.2" y="1475.6" width="5" height="71.9" fill="#EF8228"/>
<rect x="1179.5" y="1513.7" width="5" height="33.8" fill="#EF8228"/>
<rect x="366.1" y="1349.3" width="5" height="198.2" fill="#6276FF"/>
<rect x="417.5" y="1387.1" width="5" height="160.4" fill="#6276FF"/>
<rect x="458.1" y="1223.1" width="5" height="324.4" fill="#6276FF"/>
<rect x="907.8" y="1423.0" width="5" height="124.5" fill="#6276FF"/>
<rect x="1046.2" y="1431.5" width="5" height="116.0" fill="#6276FF"/>
<rect x="1123.7" y="1505.8" width="5" height="41.7" fill="#6276FF"/>
<rect x="1159.5" y="1449.0" width="5" height="98.5" fill="#6276FF"/>
<rect x="1184.5" y="1484.4" width="5" height="63.1" fill="#6276FF"/>
<rect x="943.4" y="57" width="110" height="5.6" fill="#EF8228"/>
<rect x="847.7" y="451.5" width="107.3" height="6" fill="#00D08A"/>
<rect x="745" y="849.5" width="108.6" height="5.6" fill="#763806"/>
<text x="1062.00" y="76.00" font-size="49.00" fill="#EF8228" textLength="131.40" lengthAdjust="spacingAndGlyphs">Cu-06</text>
<text x="966.40" y="469.80" font-size="45.50" fill="#00D08A" textLength="227.60" lengthAdjust="spacingAndGlyphs">CuZ-06-03</text>
<text x="864.60" y="866.20" font-size="44.50" fill="#763806" textLength="321.20" lengthAdjust="spacingAndGlyphs">CuZA-06-03-01</text>
<text x="529.00" y="1238.60" font-size="37.50" fill="#EF8228" textLength="648.00" lengthAdjust="spacingAndGlyphs">CuO (JCPDS number: 00-048-1548)</text>
<text x="530.00" y="1288.30" font-size="37.50" fill="#6276FF" textLength="643.20" lengthAdjust="spacingAndGlyphs">ZnO (JCPDS number: 00-036-1451)</text>
<text x="130.60" y="93.50" font-size="44.50" fill="#000" stroke="#000" stroke-width="1.20" textLength="55.00" lengthAdjust="spacingAndGlyphs">(a)</text>
<text x="129.20" y="477.00" font-size="44.50" fill="#000" stroke="#000" stroke-width="1.20" textLength="57.20" lengthAdjust="spacingAndGlyphs">(b)</text>
<text x="140.20" y="849.80" font-size="44.50" fill="#000" stroke="#000" stroke-width="1.20" textLength="50.60" lengthAdjust="spacingAndGlyphs">(c)</text>
<text x="140.40" y="1275.00" font-size="44.50" fill="#000" stroke="#000" stroke-width="1.20" textLength="57.40" lengthAdjust="spacingAndGlyphs">(d)</text>
<text x="366.60" y="63.40" font-size="21.20" fill="#000" stroke="#000" stroke-width="1.10" textLength="118.60" lengthAdjust="spacingAndGlyphs">CuO (1 1 -1)</text>
<text x="466.00" y="132.50" font-size="21.20" fill="#000" stroke="#000" stroke-width="1.10" textLength="111.60" lengthAdjust="spacingAndGlyphs">CuO (1 1 1)</text>
<text x="293.80" y="324.10" font-size="21.20" fill="#000" stroke="#000" stroke-width="1.10" textLength="111.00" lengthAdjust="spacingAndGlyphs">CuO (1 1 0)</text>
<text x="339.60" y="470.50" font-size="21.20" fill="#000" stroke="#000" stroke-width="1.10" textLength="250.00" lengthAdjust="spacingAndGlyphs">CuO (1 1 -1) / ZnO (1 0 1)</text>
<text x="472.00" y="577.70" font-size="21.20" fill="#000" stroke="#000" stroke-width="1.10" textLength="112.20" lengthAdjust="spacingAndGlyphs">CuO (1 1 1)</text>
<text x="270.80" y="677.30" font-size="21.20" fill="#000" stroke="#000" stroke-width="1.10" textLength="111.60" lengthAdjust="spacingAndGlyphs">ZnO (1 0 0)</text>
<text x="328.20" y="853.50" font-size="21.20" fill="#000" stroke="#000" stroke-width="1.10" textLength="252.60" lengthAdjust="spacingAndGlyphs">CuO (1 1 -1)&#160; / ZnO (1 0 1)</text>
<text x="481.80" y="973.00" font-size="21.20" fill="#000" stroke="#000" stroke-width="1.10" textLength="111.60" lengthAdjust="spacingAndGlyphs">CuO (1 1 1)</text>
<text x="290.40" y="1065.20" font-size="21.20" fill="#000" stroke="#000" stroke-width="1.10" textLength="111.00" lengthAdjust="spacingAndGlyphs">ZnO (1 0 0)</text>
<text x="73.60" y="1597.50" font-size="43.00" fill="#000" textLength="54.20" lengthAdjust="spacingAndGlyphs">20</text>
<text x="296.60" y="1597.50" font-size="43.00" fill="#000" textLength="52.20" lengthAdjust="spacingAndGlyphs">30</text>
<text x="517.00" y="1597.50" font-size="43.00" fill="#000" textLength="52.00" lengthAdjust="spacingAndGlyphs">40</text>
<text x="737.60" y="1597.50" font-size="43.00" fill="#000" textLength="52.20" lengthAdjust="spacingAndGlyphs">50</text>
<text x="957.80" y="1597.50" font-size="43.00" fill="#000" textLength="53.00" lengthAdjust="spacingAndGlyphs">60</text>
<text x="1179.00" y="1597.50" font-size="43.00" fill="#000" textLength="53.80" lengthAdjust="spacingAndGlyphs">70</text>
<text x="443.00" y="1665.80" font-size="57.00" fill="#000" textLength="34.00" lengthAdjust="spacingAndGlyphs">2</text>
<text x="475.60" y="1666.00" font-size="56.50" fill="#000" style="font-family:&quot;Liberation Serif&quot;, serif" textLength="32.20" lengthAdjust="spacingAndGlyphs">&#952;</text>
<text x="522.40" y="1665.30" font-size="57.00" fill="#000" textLength="250.40" lengthAdjust="spacingAndGlyphs">(degrees)</text>
<text x="679.60" y="352.20" font-size="21.20" fill="#000" stroke="#000" stroke-width="1.10" textLength="117.80" lengthAdjust="spacingAndGlyphs" transform="rotate(-90 679.60 352.20)">CuO (1 1 -2)</text>
<text x="733.30" y="307.00" font-size="21.20" fill="#000" stroke="#000" stroke-width="1.10" textLength="117.20" lengthAdjust="spacingAndGlyphs" transform="rotate(-90 733.30 307.00)">CuO (2 0 -2)</text>
<text x="825.30" y="348.20" font-size="21.20" fill="#000" stroke="#000" stroke-width="1.10" textLength="109.80" lengthAdjust="spacingAndGlyphs" transform="rotate(-90 825.30 348.20)">CuO (0 2 0)</text>
<text x="932.90" y="345.40" font-size="21.20" fill="#000" stroke="#000" stroke-width="1.10" textLength="110.60" lengthAdjust="spacingAndGlyphs" transform="rotate(-90 932.90 345.40)">CuO (2 0 2)</text>
<text x="1009.30" y="337.80" font-size="21.20" fill="#000" stroke="#000" stroke-width="1.10" textLength="119.20" lengthAdjust="spacingAndGlyphs" transform="rotate(-90 1009.30 337.80)">CuO (1 1 -3)</text>
<text x="1109.20" y="337.80" font-size="21.20" fill="#000" stroke="#000" stroke-width="1.10" textLength="119.20" lengthAdjust="spacingAndGlyphs" transform="rotate(-90 1109.20 337.80)">CuO (3 1 -1)</text>
<text x="1147.70" y="337.80" font-size="21.20" fill="#000" stroke="#000" stroke-width="1.10" textLength="110.60" lengthAdjust="spacingAndGlyphs" transform="rotate(-90 1147.70 337.80)">CuO (1 1 3)</text>
<text x="720.20" y="721.40" font-size="21.20" fill="#000" stroke="#000" stroke-width="1.10" textLength="118.00" lengthAdjust="spacingAndGlyphs" transform="rotate(-90 720.20 721.40)">CuO (2 0 -2)</text>
<text x="898.20" y="731.00" font-size="21.20" fill="#000" stroke="#000" stroke-width="1.10" textLength="107.40" lengthAdjust="spacingAndGlyphs" transform="rotate(-90 898.20 731.00)">ZnO (1 1 0)</text>
<text x="929.00" y="735.40" font-size="21.20" fill="#000" stroke="#000" stroke-width="1.10" textLength="109.40" lengthAdjust="spacingAndGlyphs" transform="rotate(-90 929.00 735.40)">CuO (2 0 2)</text>
<text x="1005.50" y="721.20" font-size="21.20" fill="#000" stroke="#000" stroke-width="1.10" textLength="118.40" lengthAdjust="spacingAndGlyphs" transform="rotate(-90 1005.50 721.20)">CuO (1 1 -3)</text>
<text x="1036.00" y="716.20" font-size="21.20" fill="#000" stroke="#000" stroke-width="1.10" textLength="108.80" lengthAdjust="spacingAndGlyphs" transform="rotate(-90 1036.00 716.20)">ZnO (1 0 3)</text>
<text x="1101.60" y="717.20" font-size="21.20" fill="#000" stroke="#000" stroke-width="1.10" textLength="117.80" lengthAdjust="spacingAndGlyphs" transform="rotate(-90 1101.60 717.20)">CuO (3 1 -1)</text>
<text x="1143.70" y="709.20" font-size="21.20" fill="#000" stroke="#000" stroke-width="1.10" textLength="109.20" lengthAdjust="spacingAndGlyphs" transform="rotate(-90 1143.70 709.20)">ZnO (1 1 2)</text>
<text x="729.10" y="1107.00" font-size="21.20" fill="#000" stroke="#000" stroke-width="1.10" textLength="117.20" lengthAdjust="spacingAndGlyphs" transform="rotate(-90 729.10 1107.00)">CuO (2 0 -2)</text>
<text x="921.10" y="1135.20" font-size="21.20" fill="#000" stroke="#000" stroke-width="1.10" textLength="109.60" lengthAdjust="spacingAndGlyphs" transform="rotate(-90 921.10 1135.20)">ZnO (1 1 0)</text>
<text x="1006.00" y="1132.20" font-size="21.20" fill="#000" stroke="#000" stroke-width="1.10" textLength="117.80" lengthAdjust="spacingAndGlyphs" transform="rotate(-90 1006.00 1132.20)">CuO (1 1 -3)</text>
<text x="1106.10" y="1132.20" font-size="21.20" fill="#000" stroke="#000" stroke-width="1.10" textLength="117.80" lengthAdjust="spacingAndGlyphs" transform="rotate(-90 1106.10 1132.20)">CuO (3 1 -1)</text>
<text x="1152.20" y="1131.60" font-size="21.20" fill="#000" stroke="#000" stroke-width="1.10" textLength="109.20" lengthAdjust="spacingAndGlyphs" transform="rotate(-90 1152.20 1131.60)">ZnO (1 1 2)</text>
<text x="57.50" y="982.60" font-size="62.50" fill="#000" textLength="367.40" lengthAdjust="spacingAndGlyphs" transform="rotate(-90 57.50 982.60)">Intensity (a.u)</text>
</svg></body></html>
